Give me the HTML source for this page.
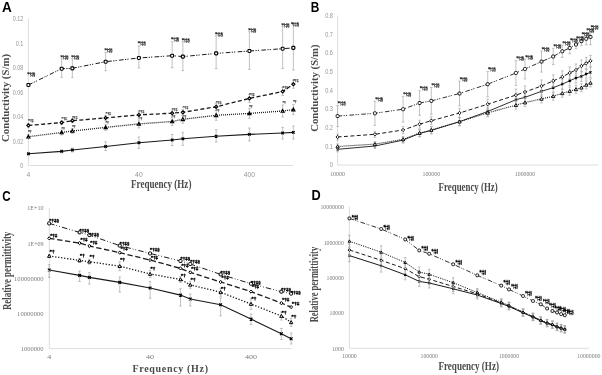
<!DOCTYPE html>
<html><head><meta charset="utf-8"><style>
html,body{margin:0;padding:0;background:#fff;width:602px;height:375px;overflow:hidden}
svg{display:block;filter:grayscale(1) blur(0.3px)}
</style></head><body>
<svg width="602" height="375" viewBox="0 0 602 375">
<rect width="602" height="375" fill="#fff"/>
<path d="M28.40,18.70V165.50H293.20" stroke="#d9d9d9" stroke-width="0.9" fill="none"/>
<text x="23.20" y="20.90" font-family="Liberation Sans" font-weight="normal" font-size="6.8" fill="#969696" text-anchor="end" textLength="10.5" lengthAdjust="spacingAndGlyphs">0.12</text>
<text x="23.20" y="45.60" font-family="Liberation Sans" font-weight="normal" font-size="6.8" fill="#969696" text-anchor="end" textLength="7.5" lengthAdjust="spacingAndGlyphs">0.1</text>
<text x="23.20" y="70.00" font-family="Liberation Sans" font-weight="normal" font-size="6.8" fill="#969696" text-anchor="end" textLength="10.5" lengthAdjust="spacingAndGlyphs">0.08</text>
<text x="23.20" y="94.50" font-family="Liberation Sans" font-weight="normal" font-size="6.8" fill="#969696" text-anchor="end" textLength="10.5" lengthAdjust="spacingAndGlyphs">0.06</text>
<text x="23.20" y="119.00" font-family="Liberation Sans" font-weight="normal" font-size="6.8" fill="#969696" text-anchor="end" textLength="10.5" lengthAdjust="spacingAndGlyphs">0.04</text>
<text x="23.20" y="143.50" font-family="Liberation Sans" font-weight="normal" font-size="6.8" fill="#969696" text-anchor="end" textLength="10.5" lengthAdjust="spacingAndGlyphs">0.02</text>
<text x="23.20" y="168.00" font-family="Liberation Sans" font-weight="normal" font-size="6.8" fill="#969696" text-anchor="end" textLength="3.3" lengthAdjust="spacingAndGlyphs">0</text>
<text x="28.40" y="177.00" font-family="Liberation Sans" font-weight="normal" font-size="6.8" fill="#969696" text-anchor="middle">4</text>
<text x="138.90" y="177.00" font-family="Liberation Sans" font-weight="normal" font-size="6.8" fill="#969696" text-anchor="middle">40</text>
<text x="249.40" y="177.00" font-family="Liberation Sans" font-weight="normal" font-size="6.8" fill="#969696" text-anchor="middle">400</text>
<path d="M28.40,152.80V154.80M27.10,152.80h2.6M27.10,154.80h2.6" stroke="#a8a8a8" stroke-width="0.7" fill="none"/>
<path d="M61.66,149.90V152.90M60.36,149.90h2.6M60.36,152.90h2.6" stroke="#a8a8a8" stroke-width="0.7" fill="none"/>
<path d="M72.37,148.00V152.00M71.07,148.00h2.6M71.07,152.00h2.6" stroke="#a8a8a8" stroke-width="0.7" fill="none"/>
<path d="M105.64,141.80V150.50M104.34,141.80h2.6M104.34,150.50h2.6" stroke="#a8a8a8" stroke-width="0.7" fill="none"/>
<path d="M138.90,137.00V148.40M137.60,137.00h2.6M137.60,148.40h2.6" stroke="#a8a8a8" stroke-width="0.7" fill="none"/>
<path d="M172.16,134.50V145.60M170.86,134.50h2.6M170.86,145.60h2.6" stroke="#a8a8a8" stroke-width="0.7" fill="none"/>
<path d="M182.87,132.30V145.30M181.57,132.30h2.6M181.57,145.30h2.6" stroke="#a8a8a8" stroke-width="0.7" fill="none"/>
<path d="M216.14,129.70V142.10M214.84,129.70h2.6M214.84,142.10h2.6" stroke="#a8a8a8" stroke-width="0.7" fill="none"/>
<path d="M249.40,128.00V141.00M248.10,128.00h2.6M248.10,141.00h2.6" stroke="#a8a8a8" stroke-width="0.7" fill="none"/>
<path d="M282.66,127.40V139.00M281.36,127.40h2.6M281.36,139.00h2.6" stroke="#a8a8a8" stroke-width="0.7" fill="none"/>
<path d="M293.37,126.00V139.00M292.07,126.00h2.6M292.07,139.00h2.6" stroke="#a8a8a8" stroke-width="0.7" fill="none"/>
<polyline points="28.40,153.80 61.66,151.40 72.37,150.00 105.64,146.50 138.90,142.70 172.16,140.00 182.87,138.80 216.14,136.20 249.40,134.40 282.66,133.00 293.37,132.40" fill="none" stroke="#1a1a1a" stroke-width="1.1"/>
<path d="M27.12,152.52L29.68,155.08M29.68,152.52L27.12,155.08" stroke="#000" stroke-width="1.2"/>
<path d="M60.38,150.12L62.94,152.68M62.94,150.12L60.38,152.68" stroke="#000" stroke-width="1.2"/>
<path d="M71.09,148.72L73.65,151.28M73.65,148.72L71.09,151.28" stroke="#000" stroke-width="1.2"/>
<path d="M104.36,145.22L106.92,147.78M106.92,145.22L104.36,147.78" stroke="#000" stroke-width="1.2"/>
<path d="M137.62,141.42L140.18,143.98M140.18,141.42L137.62,143.98" stroke="#000" stroke-width="1.2"/>
<path d="M170.88,138.72L173.44,141.28M173.44,138.72L170.88,141.28" stroke="#000" stroke-width="1.2"/>
<path d="M181.59,137.52L184.15,140.08M184.15,137.52L181.59,140.08" stroke="#000" stroke-width="1.2"/>
<path d="M214.86,134.92L217.42,137.48M217.42,134.92L214.86,137.48" stroke="#000" stroke-width="1.2"/>
<path d="M248.12,133.12L250.68,135.68M250.68,133.12L248.12,135.68" stroke="#000" stroke-width="1.2"/>
<path d="M281.38,131.72L283.94,134.28M283.94,131.72L281.38,134.28" stroke="#000" stroke-width="1.2"/>
<path d="M292.09,131.12L294.65,133.68M294.65,131.12L292.09,133.68" stroke="#000" stroke-width="1.2"/>
<path d="M28.40,134.70V138.70M27.10,134.70h2.6M27.10,138.70h2.6" stroke="#a8a8a8" stroke-width="0.7" fill="none"/>
<path d="M61.66,130.00V135.00M60.36,130.00h2.6M60.36,135.00h2.6" stroke="#a8a8a8" stroke-width="0.7" fill="none"/>
<path d="M72.37,128.50V133.50M71.07,128.50h2.6M71.07,133.50h2.6" stroke="#a8a8a8" stroke-width="0.7" fill="none"/>
<path d="M105.64,124.40V130.40M104.34,124.40h2.6M104.34,130.40h2.6" stroke="#a8a8a8" stroke-width="0.7" fill="none"/>
<path d="M138.90,119.90V127.90M137.60,119.90h2.6M137.60,127.90h2.6" stroke="#a8a8a8" stroke-width="0.7" fill="none"/>
<path d="M172.16,117.50V125.50M170.86,117.50h2.6M170.86,125.50h2.6" stroke="#a8a8a8" stroke-width="0.7" fill="none"/>
<path d="M182.87,115.30V123.30M181.57,115.30h2.6M181.57,123.30h2.6" stroke="#a8a8a8" stroke-width="0.7" fill="none"/>
<path d="M216.14,110.30V120.30M214.84,110.30h2.6M214.84,120.30h2.6" stroke="#a8a8a8" stroke-width="0.7" fill="none"/>
<path d="M249.40,108.40V118.40M248.10,108.40h2.6M248.10,118.40h2.6" stroke="#a8a8a8" stroke-width="0.7" fill="none"/>
<path d="M282.66,105.00V117.00M281.36,105.00h2.6M281.36,117.00h2.6" stroke="#a8a8a8" stroke-width="0.7" fill="none"/>
<path d="M293.37,104.60V114.60M292.07,104.60h2.6M292.07,114.60h2.6" stroke="#a8a8a8" stroke-width="0.7" fill="none"/>
<polyline points="28.40,136.70 61.66,132.50 72.37,131.00 105.64,127.40 138.90,123.90 172.16,121.50 182.87,119.30 216.14,115.30 249.40,113.40 282.66,111.00 293.37,109.60" fill="none" stroke="#1a1a1a" stroke-width="1.3" stroke-dasharray="1 1"/>
<path d="M28.40,135.16L29.94,137.96L26.86,137.96Z" fill="#fff" stroke="#000" stroke-width="1.15"/>
<path d="M61.66,130.96L63.20,133.76L60.12,133.76Z" fill="#fff" stroke="#000" stroke-width="1.15"/>
<path d="M72.37,129.46L73.91,132.26L70.83,132.26Z" fill="#fff" stroke="#000" stroke-width="1.15"/>
<path d="M105.64,125.86L107.18,128.66L104.10,128.66Z" fill="#fff" stroke="#000" stroke-width="1.15"/>
<path d="M138.90,122.36L140.44,125.16L137.36,125.16Z" fill="#fff" stroke="#000" stroke-width="1.15"/>
<path d="M172.16,119.96L173.70,122.76L170.62,122.76Z" fill="#fff" stroke="#000" stroke-width="1.15"/>
<path d="M182.87,117.76L184.41,120.56L181.33,120.56Z" fill="#fff" stroke="#000" stroke-width="1.15"/>
<path d="M216.14,113.76L217.68,116.56L214.60,116.56Z" fill="#fff" stroke="#000" stroke-width="1.15"/>
<path d="M249.40,111.86L250.94,114.66L247.86,114.66Z" fill="#fff" stroke="#000" stroke-width="1.15"/>
<path d="M282.66,109.46L284.20,112.26L281.12,112.26Z" fill="#fff" stroke="#000" stroke-width="1.15"/>
<path d="M293.37,108.06L294.91,110.86L291.83,110.86Z" fill="#fff" stroke="#000" stroke-width="1.15"/>
<text x="27.80" y="133.30" font-family="Liberation Serif" font-weight="bold" font-size="5.0" fill="#000" text-anchor="start" textLength="4.2" lengthAdjust="spacing">*†</text>
<text x="61.06" y="129.90" font-family="Liberation Serif" font-weight="bold" font-size="5.0" fill="#000" text-anchor="start" textLength="4.2" lengthAdjust="spacing">*†</text>
<text x="71.77" y="128.20" font-family="Liberation Serif" font-weight="bold" font-size="5.0" fill="#000" text-anchor="start" textLength="4.2" lengthAdjust="spacing">*†</text>
<text x="105.04" y="124.10" font-family="Liberation Serif" font-weight="bold" font-size="5.0" fill="#000" text-anchor="start" textLength="4.2" lengthAdjust="spacing">*†</text>
<text x="138.30" y="120.30" font-family="Liberation Serif" font-weight="bold" font-size="5.0" fill="#000" text-anchor="start" textLength="4.2" lengthAdjust="spacing">*†</text>
<text x="171.56" y="118.00" font-family="Liberation Serif" font-weight="bold" font-size="5.0" fill="#000" text-anchor="start" textLength="4.2" lengthAdjust="spacing">*†</text>
<text x="182.27" y="118.00" font-family="Liberation Serif" font-weight="bold" font-size="5.0" fill="#000" text-anchor="start" textLength="4.2" lengthAdjust="spacing">*†</text>
<text x="215.54" y="112.20" font-family="Liberation Serif" font-weight="bold" font-size="5.0" fill="#000" text-anchor="start" textLength="4.2" lengthAdjust="spacing">*†</text>
<text x="248.80" y="107.90" font-family="Liberation Serif" font-weight="bold" font-size="5.0" fill="#000" text-anchor="start" textLength="4.2" lengthAdjust="spacing">*†</text>
<text x="282.06" y="103.90" font-family="Liberation Serif" font-weight="bold" font-size="5.0" fill="#000" text-anchor="start" textLength="4.2" lengthAdjust="spacing">*†</text>
<text x="292.77" y="102.90" font-family="Liberation Serif" font-weight="bold" font-size="5.0" fill="#000" text-anchor="start" textLength="4.2" lengthAdjust="spacing">*†</text>
<path d="M28.40,123.40V127.40M27.10,123.40h2.6M27.10,127.40h2.6" stroke="#a8a8a8" stroke-width="0.7" fill="none"/>
<path d="M61.66,120.60V124.60M60.36,120.60h2.6M60.36,124.60h2.6" stroke="#a8a8a8" stroke-width="0.7" fill="none"/>
<path d="M72.37,118.70V122.70M71.07,118.70h2.6M71.07,122.70h2.6" stroke="#a8a8a8" stroke-width="0.7" fill="none"/>
<path d="M105.64,115.40V120.40M104.34,115.40h2.6M104.34,120.40h2.6" stroke="#a8a8a8" stroke-width="0.7" fill="none"/>
<path d="M138.90,111.90V117.90M137.60,111.90h2.6M137.60,117.90h2.6" stroke="#a8a8a8" stroke-width="0.7" fill="none"/>
<path d="M172.16,110.20V116.20M170.86,110.20h2.6M170.86,116.20h2.6" stroke="#a8a8a8" stroke-width="0.7" fill="none"/>
<path d="M182.87,109.30V115.30M181.57,109.30h2.6M181.57,115.30h2.6" stroke="#a8a8a8" stroke-width="0.7" fill="none"/>
<path d="M216.14,103.30V110.30M214.84,103.30h2.6M214.84,110.30h2.6" stroke="#a8a8a8" stroke-width="0.7" fill="none"/>
<path d="M249.40,94.40V102.40M248.10,94.40h2.6M248.10,102.40h2.6" stroke="#a8a8a8" stroke-width="0.7" fill="none"/>
<path d="M282.66,87.50V95.50M281.36,87.50h2.6M281.36,95.50h2.6" stroke="#a8a8a8" stroke-width="0.7" fill="none"/>
<path d="M293.37,80.20V88.20M292.07,80.20h2.6M292.07,88.20h2.6" stroke="#a8a8a8" stroke-width="0.7" fill="none"/>
<polyline points="28.40,125.40 61.66,122.60 72.37,120.70 105.64,117.90 138.90,114.90 172.16,113.20 182.87,112.30 216.14,106.80 249.40,98.40 282.66,91.50 293.37,84.20" fill="none" stroke="#1a1a1a" stroke-width="1.3" stroke-dasharray="4 2.4"/>
<path d="M28.40,123.86L29.94,125.40L28.40,126.94L26.86,125.40Z" fill="#fff" stroke="#000" stroke-width="1.15"/>
<path d="M61.66,121.06L63.20,122.60L61.66,124.14L60.12,122.60Z" fill="#fff" stroke="#000" stroke-width="1.15"/>
<path d="M72.37,119.16L73.91,120.70L72.37,122.24L70.83,120.70Z" fill="#fff" stroke="#000" stroke-width="1.15"/>
<path d="M105.64,116.36L107.18,117.90L105.64,119.44L104.10,117.90Z" fill="#fff" stroke="#000" stroke-width="1.15"/>
<path d="M138.90,113.36L140.44,114.90L138.90,116.44L137.36,114.90Z" fill="#fff" stroke="#000" stroke-width="1.15"/>
<path d="M172.16,111.66L173.70,113.20L172.16,114.74L170.62,113.20Z" fill="#fff" stroke="#000" stroke-width="1.15"/>
<path d="M182.87,110.76L184.41,112.30L182.87,113.84L181.33,112.30Z" fill="#fff" stroke="#000" stroke-width="1.15"/>
<path d="M216.14,105.26L217.68,106.80L216.14,108.34L214.60,106.80Z" fill="#fff" stroke="#000" stroke-width="1.15"/>
<path d="M249.40,96.86L250.94,98.40L249.40,99.94L247.86,98.40Z" fill="#fff" stroke="#000" stroke-width="1.15"/>
<path d="M282.66,89.96L284.20,91.50L282.66,93.04L281.12,91.50Z" fill="#fff" stroke="#000" stroke-width="1.15"/>
<path d="M293.37,82.66L294.91,84.20L293.37,85.74L291.83,84.20Z" fill="#fff" stroke="#000" stroke-width="1.15"/>
<text x="27.80" y="121.50" font-family="Liberation Serif" font-weight="bold" font-size="5.0" fill="#000" text-anchor="start" textLength="6.2" lengthAdjust="spacing">*†‡</text>
<text x="61.06" y="120.20" font-family="Liberation Serif" font-weight="bold" font-size="5.0" fill="#000" text-anchor="start" textLength="6.2" lengthAdjust="spacing">*†‡</text>
<text x="71.77" y="118.90" font-family="Liberation Serif" font-weight="bold" font-size="5.0" fill="#000" text-anchor="start" textLength="6.2" lengthAdjust="spacing">*†‡</text>
<text x="105.04" y="114.80" font-family="Liberation Serif" font-weight="bold" font-size="5.0" fill="#000" text-anchor="start" textLength="6.2" lengthAdjust="spacing">*†‡</text>
<text x="138.30" y="112.50" font-family="Liberation Serif" font-weight="bold" font-size="5.0" fill="#000" text-anchor="start" textLength="6.2" lengthAdjust="spacing">*†‡</text>
<text x="171.56" y="111.10" font-family="Liberation Serif" font-weight="bold" font-size="5.0" fill="#000" text-anchor="start" textLength="6.2" lengthAdjust="spacing">*†‡</text>
<text x="182.27" y="109.00" font-family="Liberation Serif" font-weight="bold" font-size="5.0" fill="#000" text-anchor="start" textLength="6.2" lengthAdjust="spacing">*†‡</text>
<text x="215.54" y="104.20" font-family="Liberation Serif" font-weight="bold" font-size="5.0" fill="#000" text-anchor="start" textLength="6.2" lengthAdjust="spacing">*†‡</text>
<text x="248.80" y="95.90" font-family="Liberation Serif" font-weight="bold" font-size="5.0" fill="#000" text-anchor="start" textLength="6.2" lengthAdjust="spacing">*†‡</text>
<text x="282.06" y="88.50" font-family="Liberation Serif" font-weight="bold" font-size="5.0" fill="#000" text-anchor="start" textLength="6.2" lengthAdjust="spacing">*†‡</text>
<text x="292.77" y="81.90" font-family="Liberation Serif" font-weight="bold" font-size="5.0" fill="#000" text-anchor="start" textLength="6.2" lengthAdjust="spacing">*†‡</text>
<path d="M61.66,58.70V77.40M60.36,58.70h2.6M60.36,77.40h2.6" stroke="#a8a8a8" stroke-width="0.7" fill="none"/>
<path d="M72.37,58.70V77.40M71.07,58.70h2.6M71.07,77.40h2.6" stroke="#a8a8a8" stroke-width="0.7" fill="none"/>
<path d="M105.64,52.40V70.70M104.34,52.40h2.6M104.34,70.70h2.6" stroke="#a8a8a8" stroke-width="0.7" fill="none"/>
<path d="M138.90,46.00V68.00M137.60,46.00h2.6M137.60,68.00h2.6" stroke="#a8a8a8" stroke-width="0.7" fill="none"/>
<path d="M172.16,41.70V67.70M170.86,41.70h2.6M170.86,67.70h2.6" stroke="#a8a8a8" stroke-width="0.7" fill="none"/>
<path d="M182.87,41.70V70.60M181.57,41.70h2.6M181.57,70.60h2.6" stroke="#a8a8a8" stroke-width="0.7" fill="none"/>
<path d="M216.14,35.70V68.60M214.84,35.70h2.6M214.84,68.60h2.6" stroke="#a8a8a8" stroke-width="0.7" fill="none"/>
<path d="M249.40,31.70V69.30M248.10,31.70h2.6M248.10,69.30h2.6" stroke="#a8a8a8" stroke-width="0.7" fill="none"/>
<path d="M282.66,26.30V68.60M281.36,26.30h2.6M281.36,68.60h2.6" stroke="#a8a8a8" stroke-width="0.7" fill="none"/>
<path d="M293.37,25.00V70.00M292.07,25.00h2.6M292.07,70.00h2.6" stroke="#a8a8a8" stroke-width="0.7" fill="none"/>
<polyline points="28.40,85.00 61.66,68.70 72.37,68.30 105.64,61.70 138.90,58.00 172.16,55.70 182.87,56.60 216.14,53.40 249.40,51.00 282.66,48.70 293.37,47.90" fill="none" stroke="#1a1a1a" stroke-width="1.0" stroke-dasharray="4.6 1.4 1.2 1.1 1.2 2.4"/>
<rect x="26.90" y="83.50" width="3.00" height="3.00" rx="0.9" fill="#fff" stroke="#000" stroke-width="1.15"/>
<rect x="60.16" y="67.20" width="3.00" height="3.00" rx="0.9" fill="#fff" stroke="#000" stroke-width="1.15"/>
<rect x="70.87" y="66.80" width="3.00" height="3.00" rx="0.9" fill="#fff" stroke="#000" stroke-width="1.15"/>
<rect x="104.14" y="60.20" width="3.00" height="3.00" rx="0.9" fill="#fff" stroke="#000" stroke-width="1.15"/>
<rect x="137.40" y="56.50" width="3.00" height="3.00" rx="0.9" fill="#fff" stroke="#000" stroke-width="1.15"/>
<rect x="170.66" y="54.20" width="3.00" height="3.00" rx="0.9" fill="#fff" stroke="#000" stroke-width="1.15"/>
<rect x="181.37" y="55.10" width="3.00" height="3.00" rx="0.9" fill="#fff" stroke="#000" stroke-width="1.15"/>
<rect x="214.64" y="51.90" width="3.00" height="3.00" rx="0.9" fill="#fff" stroke="#000" stroke-width="1.15"/>
<rect x="247.90" y="49.50" width="3.00" height="3.00" rx="0.9" fill="#fff" stroke="#000" stroke-width="1.15"/>
<rect x="281.16" y="47.20" width="3.00" height="3.00" rx="0.9" fill="#fff" stroke="#000" stroke-width="1.15"/>
<rect x="291.87" y="46.40" width="3.00" height="3.00" rx="0.9" fill="#fff" stroke="#000" stroke-width="1.15"/>
<text x="27.00" y="75.60" font-family="Liberation Serif" font-weight="bold" font-size="5.6" fill="#000" text-anchor="start" textLength="8.6" lengthAdjust="spacing">*†‡§</text>
<text x="60.26" y="59.40" font-family="Liberation Serif" font-weight="bold" font-size="5.6" fill="#000" text-anchor="start" textLength="8.6" lengthAdjust="spacing">*†‡§</text>
<text x="70.97" y="59.40" font-family="Liberation Serif" font-weight="bold" font-size="5.6" fill="#000" text-anchor="start" textLength="8.6" lengthAdjust="spacing">*†‡§</text>
<text x="104.24" y="52.30" font-family="Liberation Serif" font-weight="bold" font-size="5.6" fill="#000" text-anchor="start" textLength="8.6" lengthAdjust="spacing">*†‡§</text>
<text x="137.50" y="45.10" font-family="Liberation Serif" font-weight="bold" font-size="5.6" fill="#000" text-anchor="start" textLength="8.6" lengthAdjust="spacing">*†‡§</text>
<text x="170.76" y="41.30" font-family="Liberation Serif" font-weight="bold" font-size="5.6" fill="#000" text-anchor="start" textLength="8.6" lengthAdjust="spacing">*†‡§</text>
<text x="181.47" y="41.90" font-family="Liberation Serif" font-weight="bold" font-size="5.6" fill="#000" text-anchor="start" textLength="8.6" lengthAdjust="spacing">*†‡§</text>
<text x="214.74" y="35.60" font-family="Liberation Serif" font-weight="bold" font-size="5.6" fill="#000" text-anchor="start" textLength="8.6" lengthAdjust="spacing">*†‡§</text>
<text x="248.00" y="31.60" font-family="Liberation Serif" font-weight="bold" font-size="5.6" fill="#000" text-anchor="start" textLength="8.6" lengthAdjust="spacing">*†‡§</text>
<text x="281.26" y="26.60" font-family="Liberation Serif" font-weight="bold" font-size="5.6" fill="#000" text-anchor="start" textLength="8.6" lengthAdjust="spacing">*†‡§</text>
<text x="290.67" y="25.90" font-family="Liberation Serif" font-weight="bold" font-size="5.6" fill="#000" text-anchor="start" textLength="8.6" lengthAdjust="spacing">*†‡§</text>
<text x="2.00" y="12.40" font-family="Liberation Sans" font-weight="bold" font-size="14" fill="#000" text-anchor="start" textLength="9.8" lengthAdjust="spacingAndGlyphs">A</text>
<text transform="translate(9.40,98.00) rotate(-90)" x="0" y="0" font-family="Liberation Serif" font-weight="bold" font-size="11" fill="#4a4a4a" text-anchor="middle" textLength="88" lengthAdjust="spacingAndGlyphs">Conductivity (S/m)</text>
<text x="131.00" y="188.00" font-family="Liberation Serif" font-weight="bold" font-size="11.5" fill="#4a4a4a" text-anchor="start" textLength="60.4" lengthAdjust="spacingAndGlyphs">Frequency (Hz)</text>
<path d="M337.60,15.50V165.00H598.30" stroke="#d9d9d9" stroke-width="0.9" fill="none"/>
<text x="333.00" y="17.90" font-family="Liberation Sans" font-weight="normal" font-size="6.8" fill="#969696" text-anchor="end" textLength="7.8" lengthAdjust="spacingAndGlyphs">0.8</text>
<text x="333.00" y="36.59" font-family="Liberation Sans" font-weight="normal" font-size="6.8" fill="#969696" text-anchor="end" textLength="7.8" lengthAdjust="spacingAndGlyphs">0.7</text>
<text x="333.00" y="55.27" font-family="Liberation Sans" font-weight="normal" font-size="6.8" fill="#969696" text-anchor="end" textLength="7.8" lengthAdjust="spacingAndGlyphs">0.6</text>
<text x="333.00" y="73.96" font-family="Liberation Sans" font-weight="normal" font-size="6.8" fill="#969696" text-anchor="end" textLength="7.8" lengthAdjust="spacingAndGlyphs">0.5</text>
<text x="333.00" y="92.65" font-family="Liberation Sans" font-weight="normal" font-size="6.8" fill="#969696" text-anchor="end" textLength="7.8" lengthAdjust="spacingAndGlyphs">0.4</text>
<text x="333.00" y="111.34" font-family="Liberation Sans" font-weight="normal" font-size="6.8" fill="#969696" text-anchor="end" textLength="7.8" lengthAdjust="spacingAndGlyphs">0.3</text>
<text x="333.00" y="130.03" font-family="Liberation Sans" font-weight="normal" font-size="6.8" fill="#969696" text-anchor="end" textLength="7.8" lengthAdjust="spacingAndGlyphs">0.2</text>
<text x="333.00" y="148.71" font-family="Liberation Sans" font-weight="normal" font-size="6.8" fill="#969696" text-anchor="end" textLength="7.8" lengthAdjust="spacingAndGlyphs">0.1</text>
<text x="333.00" y="167.40" font-family="Liberation Sans" font-weight="normal" font-size="6.8" fill="#969696" text-anchor="end" textLength="3.2" lengthAdjust="spacingAndGlyphs">0</text>
<text x="337.60" y="176.40" font-family="Liberation Serif" font-weight="normal" font-size="6.6" fill="#7c7c7c" text-anchor="middle" textLength="14.9" lengthAdjust="spacingAndGlyphs">10000</text>
<text x="431.30" y="176.40" font-family="Liberation Serif" font-weight="normal" font-size="6.6" fill="#7c7c7c" text-anchor="middle" textLength="17.6" lengthAdjust="spacingAndGlyphs">100000</text>
<text x="525.00" y="176.40" font-family="Liberation Serif" font-weight="normal" font-size="6.6" fill="#7c7c7c" text-anchor="middle" textLength="20.3" lengthAdjust="spacingAndGlyphs">1000000</text>
<path d="M337.60,146.80V151.80M336.30,146.80h2.6M336.30,151.80h2.6" stroke="#a8a8a8" stroke-width="0.7" fill="none"/>
<path d="M374.89,143.50V148.50M373.59,143.50h2.6M373.59,148.50h2.6" stroke="#a8a8a8" stroke-width="0.7" fill="none"/>
<path d="M403.09,137.10V143.10M401.79,137.10h2.6M401.79,143.10h2.6" stroke="#a8a8a8" stroke-width="0.7" fill="none"/>
<path d="M419.59,130.00V137.00M418.29,130.00h2.6M418.29,137.00h2.6" stroke="#a8a8a8" stroke-width="0.7" fill="none"/>
<path d="M431.30,126.90V133.90M430.00,126.90h2.6M430.00,133.90h2.6" stroke="#a8a8a8" stroke-width="0.7" fill="none"/>
<path d="M459.51,117.70V125.70M458.21,117.70h2.6M458.21,125.70h2.6" stroke="#a8a8a8" stroke-width="0.7" fill="none"/>
<path d="M487.71,107.00V116.00M486.41,107.00h2.6M486.41,116.00h2.6" stroke="#a8a8a8" stroke-width="0.7" fill="none"/>
<path d="M515.92,94.70V104.70M514.62,94.70h2.6M514.62,104.70h2.6" stroke="#a8a8a8" stroke-width="0.7" fill="none"/>
<path d="M525.00,92.30V102.30M523.70,92.30h2.6M523.70,102.30h2.6" stroke="#a8a8a8" stroke-width="0.7" fill="none"/>
<path d="M541.50,86.30V96.30M540.20,86.30h2.6M540.20,96.30h2.6" stroke="#a8a8a8" stroke-width="0.7" fill="none"/>
<path d="M553.21,82.70V92.70M551.91,82.70h2.6M551.91,92.70h2.6" stroke="#a8a8a8" stroke-width="0.7" fill="none"/>
<path d="M562.29,79.10V89.10M560.99,79.10h2.6M560.99,89.10h2.6" stroke="#a8a8a8" stroke-width="0.7" fill="none"/>
<path d="M569.71,75.80V85.80M568.41,75.80h2.6M568.41,85.80h2.6" stroke="#a8a8a8" stroke-width="0.7" fill="none"/>
<path d="M575.98,73.00V83.00M574.68,73.00h2.6M574.68,83.00h2.6" stroke="#a8a8a8" stroke-width="0.7" fill="none"/>
<path d="M581.41,71.40V81.40M580.11,71.40h2.6M580.11,81.40h2.6" stroke="#a8a8a8" stroke-width="0.7" fill="none"/>
<path d="M586.21,69.00V79.00M584.91,69.00h2.6M584.91,79.00h2.6" stroke="#a8a8a8" stroke-width="0.7" fill="none"/>
<path d="M590.49,67.40V77.40M589.19,67.40h2.6M589.19,77.40h2.6" stroke="#a8a8a8" stroke-width="0.7" fill="none"/>
<polyline points="337.60,149.30 374.89,146.00 403.09,140.10 419.59,133.50 431.30,130.40 459.51,121.70 487.71,111.50 515.92,99.70 525.00,97.30 541.50,91.30 553.21,87.70 562.29,84.10 569.71,80.80 575.98,78.00 581.41,76.40 586.21,74.00 590.49,72.40" fill="none" stroke="#1a1a1a" stroke-width="0.9"/>
<path d="M336.56,148.26L338.64,150.34M338.64,148.26L336.56,150.34" stroke="#000" stroke-width="1.2"/>
<path d="M373.85,144.96L375.93,147.04M375.93,144.96L373.85,147.04" stroke="#000" stroke-width="1.2"/>
<path d="M402.05,139.06L404.13,141.14M404.13,139.06L402.05,141.14" stroke="#000" stroke-width="1.2"/>
<path d="M418.55,132.46L420.63,134.54M420.63,132.46L418.55,134.54" stroke="#000" stroke-width="1.2"/>
<path d="M430.26,129.36L432.34,131.44M432.34,129.36L430.26,131.44" stroke="#000" stroke-width="1.2"/>
<path d="M458.47,120.66L460.55,122.74M460.55,120.66L458.47,122.74" stroke="#000" stroke-width="1.2"/>
<path d="M486.67,110.46L488.75,112.54M488.75,110.46L486.67,112.54" stroke="#000" stroke-width="1.2"/>
<path d="M514.88,98.66L516.96,100.74M516.96,98.66L514.88,100.74" stroke="#000" stroke-width="1.2"/>
<path d="M523.96,96.26L526.04,98.34M526.04,96.26L523.96,98.34" stroke="#000" stroke-width="1.2"/>
<path d="M540.46,90.26L542.54,92.34M542.54,90.26L540.46,92.34" stroke="#000" stroke-width="1.2"/>
<path d="M552.17,86.66L554.25,88.74M554.25,86.66L552.17,88.74" stroke="#000" stroke-width="1.2"/>
<path d="M561.25,83.06L563.33,85.14M563.33,83.06L561.25,85.14" stroke="#000" stroke-width="1.2"/>
<path d="M568.67,79.76L570.75,81.84M570.75,79.76L568.67,81.84" stroke="#000" stroke-width="1.2"/>
<path d="M574.94,76.96L577.02,79.04M577.02,76.96L574.94,79.04" stroke="#000" stroke-width="1.2"/>
<path d="M580.37,75.36L582.45,77.44M582.45,75.36L580.37,77.44" stroke="#000" stroke-width="1.2"/>
<path d="M585.17,72.96L587.25,75.04M587.25,72.96L585.17,75.04" stroke="#000" stroke-width="1.2"/>
<path d="M589.45,71.36L591.53,73.44M591.53,71.36L589.45,73.44" stroke="#000" stroke-width="1.2"/>
<path d="M337.60,144.00V149.00M336.30,144.00h2.6M336.30,149.00h2.6" stroke="#a8a8a8" stroke-width="0.7" fill="none"/>
<path d="M374.89,141.60V146.60M373.59,141.60h2.6M373.59,146.60h2.6" stroke="#a8a8a8" stroke-width="0.7" fill="none"/>
<path d="M403.09,136.40V142.40M401.79,136.40h2.6M401.79,142.40h2.6" stroke="#a8a8a8" stroke-width="0.7" fill="none"/>
<path d="M419.59,129.50V136.50M418.29,129.50h2.6M418.29,136.50h2.6" stroke="#a8a8a8" stroke-width="0.7" fill="none"/>
<path d="M431.30,126.50V133.50M430.00,126.50h2.6M430.00,133.50h2.6" stroke="#a8a8a8" stroke-width="0.7" fill="none"/>
<path d="M459.51,117.70V125.70M458.21,117.70h2.6M458.21,125.70h2.6" stroke="#a8a8a8" stroke-width="0.7" fill="none"/>
<path d="M487.71,108.80V116.80M486.41,108.80h2.6M486.41,116.80h2.6" stroke="#a8a8a8" stroke-width="0.7" fill="none"/>
<path d="M515.92,101.20V109.20M514.62,101.20h2.6M514.62,109.20h2.6" stroke="#a8a8a8" stroke-width="0.7" fill="none"/>
<path d="M525.00,98.60V106.60M523.70,98.60h2.6M523.70,106.60h2.6" stroke="#a8a8a8" stroke-width="0.7" fill="none"/>
<path d="M541.50,94.90V102.90M540.20,94.90h2.6M540.20,102.90h2.6" stroke="#a8a8a8" stroke-width="0.7" fill="none"/>
<path d="M553.21,92.20V100.20M551.91,92.20h2.6M551.91,100.20h2.6" stroke="#a8a8a8" stroke-width="0.7" fill="none"/>
<path d="M562.29,89.30V97.30M560.99,89.30h2.6M560.99,97.30h2.6" stroke="#a8a8a8" stroke-width="0.7" fill="none"/>
<path d="M569.71,87.20V95.20M568.41,87.20h2.6M568.41,95.20h2.6" stroke="#a8a8a8" stroke-width="0.7" fill="none"/>
<path d="M575.98,85.30V93.30M574.68,85.30h2.6M574.68,93.30h2.6" stroke="#a8a8a8" stroke-width="0.7" fill="none"/>
<path d="M581.41,83.70V91.70M580.11,83.70h2.6M580.11,91.70h2.6" stroke="#a8a8a8" stroke-width="0.7" fill="none"/>
<path d="M586.21,80.90V88.90M584.91,80.90h2.6M584.91,88.90h2.6" stroke="#a8a8a8" stroke-width="0.7" fill="none"/>
<path d="M590.49,78.90V86.90M589.19,78.90h2.6M589.19,86.90h2.6" stroke="#a8a8a8" stroke-width="0.7" fill="none"/>
<polyline points="337.60,146.50 374.89,144.10 403.09,139.40 419.59,133.00 431.30,130.00 459.51,121.70 487.71,112.80 515.92,105.20 525.00,102.60 541.50,98.90 553.21,96.20 562.29,93.30 569.71,91.20 575.98,89.30 581.41,87.70 586.21,84.90 590.49,82.90" fill="none" stroke="#1a1a1a" stroke-width="1.1" stroke-dasharray="1 1"/>
<path d="M337.60,144.85L339.25,147.85L335.95,147.85Z" fill="#fff" stroke="#000" stroke-width="0.9"/>
<path d="M374.89,142.45L376.54,145.45L373.24,145.45Z" fill="#fff" stroke="#000" stroke-width="0.9"/>
<path d="M403.09,137.75L404.74,140.75L401.44,140.75Z" fill="#fff" stroke="#000" stroke-width="0.9"/>
<path d="M419.59,131.35L421.24,134.35L417.94,134.35Z" fill="#fff" stroke="#000" stroke-width="0.9"/>
<path d="M431.30,128.35L432.95,131.35L429.65,131.35Z" fill="#fff" stroke="#000" stroke-width="0.9"/>
<path d="M459.51,120.05L461.16,123.05L457.86,123.05Z" fill="#fff" stroke="#000" stroke-width="0.9"/>
<path d="M487.71,111.15L489.36,114.15L486.06,114.15Z" fill="#fff" stroke="#000" stroke-width="0.9"/>
<path d="M515.92,103.55L517.57,106.55L514.27,106.55Z" fill="#fff" stroke="#000" stroke-width="0.9"/>
<path d="M525.00,100.95L526.65,103.95L523.35,103.95Z" fill="#fff" stroke="#000" stroke-width="0.9"/>
<path d="M541.50,97.25L543.15,100.25L539.85,100.25Z" fill="#fff" stroke="#000" stroke-width="0.9"/>
<path d="M553.21,94.55L554.86,97.55L551.56,97.55Z" fill="#fff" stroke="#000" stroke-width="0.9"/>
<path d="M562.29,91.65L563.94,94.65L560.64,94.65Z" fill="#fff" stroke="#000" stroke-width="0.9"/>
<path d="M569.71,89.55L571.36,92.55L568.06,92.55Z" fill="#fff" stroke="#000" stroke-width="0.9"/>
<path d="M575.98,87.65L577.63,90.65L574.33,90.65Z" fill="#fff" stroke="#000" stroke-width="0.9"/>
<path d="M581.41,86.05L583.06,89.05L579.76,89.05Z" fill="#fff" stroke="#000" stroke-width="0.9"/>
<path d="M586.21,83.25L587.86,86.25L584.56,86.25Z" fill="#fff" stroke="#000" stroke-width="0.9"/>
<path d="M590.49,81.25L592.14,84.25L588.84,84.25Z" fill="#fff" stroke="#000" stroke-width="0.9"/>
<path d="M337.60,134.00V140.00M336.30,134.00h2.6M336.30,140.00h2.6" stroke="#a8a8a8" stroke-width="0.7" fill="none"/>
<path d="M374.89,131.30V137.30M373.59,131.30h2.6M373.59,137.30h2.6" stroke="#a8a8a8" stroke-width="0.7" fill="none"/>
<path d="M403.09,126.50V133.50M401.79,126.50h2.6M401.79,133.50h2.6" stroke="#a8a8a8" stroke-width="0.7" fill="none"/>
<path d="M419.59,120.20V128.20M418.29,120.20h2.6M418.29,128.20h2.6" stroke="#a8a8a8" stroke-width="0.7" fill="none"/>
<path d="M431.30,116.70V124.70M430.00,116.70h2.6M430.00,124.70h2.6" stroke="#a8a8a8" stroke-width="0.7" fill="none"/>
<path d="M459.51,108.50V117.50M458.21,108.50h2.6M458.21,117.50h2.6" stroke="#a8a8a8" stroke-width="0.7" fill="none"/>
<path d="M487.71,99.20V109.20M486.41,99.20h2.6M486.41,109.20h2.6" stroke="#a8a8a8" stroke-width="0.7" fill="none"/>
<path d="M515.92,89.10V101.10M514.62,89.10h2.6M514.62,101.10h2.6" stroke="#a8a8a8" stroke-width="0.7" fill="none"/>
<path d="M525.00,86.00V98.00M523.70,86.00h2.6M523.70,98.00h2.6" stroke="#a8a8a8" stroke-width="0.7" fill="none"/>
<path d="M541.50,80.00V92.00M540.20,80.00h2.6M540.20,92.00h2.6" stroke="#a8a8a8" stroke-width="0.7" fill="none"/>
<path d="M553.21,74.90V86.90M551.91,74.90h2.6M551.91,86.90h2.6" stroke="#a8a8a8" stroke-width="0.7" fill="none"/>
<path d="M562.29,70.90V82.90M560.99,70.90h2.6M560.99,82.90h2.6" stroke="#a8a8a8" stroke-width="0.7" fill="none"/>
<path d="M569.71,66.90V78.90M568.41,66.90h2.6M568.41,78.90h2.6" stroke="#a8a8a8" stroke-width="0.7" fill="none"/>
<path d="M575.98,64.00V76.00M574.68,64.00h2.6M574.68,76.00h2.6" stroke="#a8a8a8" stroke-width="0.7" fill="none"/>
<path d="M581.41,60.00V72.00M580.11,60.00h2.6M580.11,72.00h2.6" stroke="#a8a8a8" stroke-width="0.7" fill="none"/>
<path d="M586.21,57.30V69.30M584.91,57.30h2.6M584.91,69.30h2.6" stroke="#a8a8a8" stroke-width="0.7" fill="none"/>
<path d="M590.49,55.40V66.40M589.19,55.40h2.6M589.19,66.40h2.6" stroke="#a8a8a8" stroke-width="0.7" fill="none"/>
<polyline points="337.60,137.00 374.89,134.30 403.09,130.00 419.59,124.20 431.30,120.70 459.51,113.00 487.71,104.20 515.92,95.10 525.00,92.00 541.50,86.00 553.21,80.90 562.29,76.90 569.71,72.90 575.98,70.00 581.41,66.00 586.21,63.30 590.49,60.90" fill="none" stroke="#1a1a1a" stroke-width="1.0" stroke-dasharray="4 2.4"/>
<path d="M337.60,135.35L339.25,137.00L337.60,138.65L335.95,137.00Z" fill="#fff" stroke="#000" stroke-width="0.9"/>
<path d="M374.89,132.65L376.54,134.30L374.89,135.95L373.24,134.30Z" fill="#fff" stroke="#000" stroke-width="0.9"/>
<path d="M403.09,128.35L404.74,130.00L403.09,131.65L401.44,130.00Z" fill="#fff" stroke="#000" stroke-width="0.9"/>
<path d="M419.59,122.55L421.24,124.20L419.59,125.85L417.94,124.20Z" fill="#fff" stroke="#000" stroke-width="0.9"/>
<path d="M431.30,119.05L432.95,120.70L431.30,122.35L429.65,120.70Z" fill="#fff" stroke="#000" stroke-width="0.9"/>
<path d="M459.51,111.35L461.16,113.00L459.51,114.65L457.86,113.00Z" fill="#fff" stroke="#000" stroke-width="0.9"/>
<path d="M487.71,102.55L489.36,104.20L487.71,105.85L486.06,104.20Z" fill="#fff" stroke="#000" stroke-width="0.9"/>
<path d="M515.92,93.45L517.57,95.10L515.92,96.75L514.27,95.10Z" fill="#fff" stroke="#000" stroke-width="0.9"/>
<path d="M525.00,90.35L526.65,92.00L525.00,93.65L523.35,92.00Z" fill="#fff" stroke="#000" stroke-width="0.9"/>
<path d="M541.50,84.35L543.15,86.00L541.50,87.65L539.85,86.00Z" fill="#fff" stroke="#000" stroke-width="0.9"/>
<path d="M553.21,79.25L554.86,80.90L553.21,82.55L551.56,80.90Z" fill="#fff" stroke="#000" stroke-width="0.9"/>
<path d="M562.29,75.25L563.94,76.90L562.29,78.55L560.64,76.90Z" fill="#fff" stroke="#000" stroke-width="0.9"/>
<path d="M569.71,71.25L571.36,72.90L569.71,74.55L568.06,72.90Z" fill="#fff" stroke="#000" stroke-width="0.9"/>
<path d="M575.98,68.35L577.63,70.00L575.98,71.65L574.33,70.00Z" fill="#fff" stroke="#000" stroke-width="0.9"/>
<path d="M581.41,64.35L583.06,66.00L581.41,67.65L579.76,66.00Z" fill="#fff" stroke="#000" stroke-width="0.9"/>
<path d="M586.21,61.65L587.86,63.30L586.21,64.95L584.56,63.30Z" fill="#fff" stroke="#000" stroke-width="0.9"/>
<path d="M590.49,59.25L592.14,60.90L590.49,62.55L588.84,60.90Z" fill="#fff" stroke="#000" stroke-width="0.9"/>
<path d="M337.60,105.70V126.50M336.30,105.70h2.6M336.30,126.50h2.6" stroke="#a8a8a8" stroke-width="0.7" fill="none"/>
<path d="M374.89,101.30V125.30M373.59,101.30h2.6M373.59,125.30h2.6" stroke="#a8a8a8" stroke-width="0.7" fill="none"/>
<path d="M403.09,96.30V122.10M401.79,96.30h2.6M401.79,122.10h2.6" stroke="#a8a8a8" stroke-width="0.7" fill="none"/>
<path d="M419.59,90.70V115.30M418.29,90.70h2.6M418.29,115.30h2.6" stroke="#a8a8a8" stroke-width="0.7" fill="none"/>
<path d="M431.30,87.50V114.30M430.00,87.50h2.6M430.00,114.30h2.6" stroke="#a8a8a8" stroke-width="0.7" fill="none"/>
<path d="M459.51,81.10V105.90M458.21,81.10h2.6M458.21,105.90h2.6" stroke="#a8a8a8" stroke-width="0.7" fill="none"/>
<path d="M487.71,71.60V96.80M486.41,71.60h2.6M486.41,96.80h2.6" stroke="#a8a8a8" stroke-width="0.7" fill="none"/>
<path d="M515.92,60.60V85.40M514.62,60.60h2.6M514.62,85.40h2.6" stroke="#a8a8a8" stroke-width="0.7" fill="none"/>
<path d="M525.00,59.10V78.90M523.70,59.10h2.6M523.70,78.90h2.6" stroke="#a8a8a8" stroke-width="0.7" fill="none"/>
<path d="M541.50,51.10V72.10M540.20,51.10h2.6M540.20,72.10h2.6" stroke="#a8a8a8" stroke-width="0.7" fill="none"/>
<path d="M553.21,48.30V64.70M551.91,48.30h2.6M551.91,64.70h2.6" stroke="#a8a8a8" stroke-width="0.7" fill="none"/>
<path d="M562.29,45.20V57.40M560.99,45.20h2.6M560.99,57.40h2.6" stroke="#a8a8a8" stroke-width="0.7" fill="none"/>
<path d="M569.71,42.30V53.70M568.41,42.30h2.6M568.41,53.70h2.6" stroke="#a8a8a8" stroke-width="0.7" fill="none"/>
<path d="M575.98,40.30V48.70M574.68,40.30h2.6M574.68,48.70h2.6" stroke="#a8a8a8" stroke-width="0.7" fill="none"/>
<path d="M581.41,36.70V45.70M580.11,36.70h2.6M580.11,45.70h2.6" stroke="#a8a8a8" stroke-width="0.7" fill="none"/>
<path d="M586.21,32.80V44.80M584.91,32.80h2.6M584.91,44.80h2.6" stroke="#a8a8a8" stroke-width="0.7" fill="none"/>
<path d="M590.49,29.10V44.70M589.19,29.10h2.6M589.19,44.70h2.6" stroke="#a8a8a8" stroke-width="0.7" fill="none"/>
<polyline points="337.60,116.10 374.89,113.30 403.09,109.20 419.59,103.00 431.30,100.90 459.51,93.50 487.71,84.20 515.92,73.00 525.00,69.00 541.50,61.60 553.21,56.50 562.29,51.30 569.71,48.00 575.98,44.50 581.41,41.20 586.21,38.80 590.49,36.90" fill="none" stroke="#1a1a1a" stroke-width="0.9" stroke-dasharray="4.6 1.4 1.2 1.1 1.2 2.4"/>
<rect x="336.10" y="114.60" width="3.00" height="3.00" rx="0.9" fill="#fff" stroke="#000" stroke-width="0.9"/>
<rect x="373.39" y="111.80" width="3.00" height="3.00" rx="0.9" fill="#fff" stroke="#000" stroke-width="0.9"/>
<rect x="401.59" y="107.70" width="3.00" height="3.00" rx="0.9" fill="#fff" stroke="#000" stroke-width="0.9"/>
<rect x="418.09" y="101.50" width="3.00" height="3.00" rx="0.9" fill="#fff" stroke="#000" stroke-width="0.9"/>
<rect x="429.80" y="99.40" width="3.00" height="3.00" rx="0.9" fill="#fff" stroke="#000" stroke-width="0.9"/>
<rect x="458.01" y="92.00" width="3.00" height="3.00" rx="0.9" fill="#fff" stroke="#000" stroke-width="0.9"/>
<rect x="486.21" y="82.70" width="3.00" height="3.00" rx="0.9" fill="#fff" stroke="#000" stroke-width="0.9"/>
<rect x="514.42" y="71.50" width="3.00" height="3.00" rx="0.9" fill="#fff" stroke="#000" stroke-width="0.9"/>
<rect x="523.50" y="67.50" width="3.00" height="3.00" rx="0.9" fill="#fff" stroke="#000" stroke-width="0.9"/>
<rect x="540.00" y="60.10" width="3.00" height="3.00" rx="0.9" fill="#fff" stroke="#000" stroke-width="0.9"/>
<rect x="551.71" y="55.00" width="3.00" height="3.00" rx="0.9" fill="#fff" stroke="#000" stroke-width="0.9"/>
<rect x="560.79" y="49.80" width="3.00" height="3.00" rx="0.9" fill="#fff" stroke="#000" stroke-width="0.9"/>
<rect x="568.21" y="46.50" width="3.00" height="3.00" rx="0.9" fill="#fff" stroke="#000" stroke-width="0.9"/>
<rect x="574.48" y="43.00" width="3.00" height="3.00" rx="0.9" fill="#fff" stroke="#000" stroke-width="0.9"/>
<rect x="579.91" y="39.70" width="3.00" height="3.00" rx="0.9" fill="#fff" stroke="#000" stroke-width="0.9"/>
<rect x="584.71" y="37.30" width="3.00" height="3.00" rx="0.9" fill="#fff" stroke="#000" stroke-width="0.9"/>
<rect x="588.99" y="35.40" width="3.00" height="3.00" rx="0.9" fill="#fff" stroke="#000" stroke-width="0.9"/>
<text x="337.60" y="105.30" font-family="Liberation Serif" font-weight="bold" font-size="5.6" fill="#000" text-anchor="start" textLength="8.4" lengthAdjust="spacing">*†‡§</text>
<text x="374.89" y="100.90" font-family="Liberation Serif" font-weight="bold" font-size="5.6" fill="#000" text-anchor="start" textLength="8.4" lengthAdjust="spacing">*†‡§</text>
<text x="403.09" y="95.90" font-family="Liberation Serif" font-weight="bold" font-size="5.6" fill="#000" text-anchor="start" textLength="8.4" lengthAdjust="spacing">*†‡§</text>
<text x="419.59" y="90.30" font-family="Liberation Serif" font-weight="bold" font-size="5.6" fill="#000" text-anchor="start" textLength="8.4" lengthAdjust="spacing">*†‡§</text>
<text x="431.30" y="87.10" font-family="Liberation Serif" font-weight="bold" font-size="5.6" fill="#000" text-anchor="start" textLength="8.4" lengthAdjust="spacing">*†‡§</text>
<text x="459.51" y="80.70" font-family="Liberation Serif" font-weight="bold" font-size="5.6" fill="#000" text-anchor="start" textLength="8.4" lengthAdjust="spacing">*†‡§</text>
<text x="487.71" y="71.20" font-family="Liberation Serif" font-weight="bold" font-size="5.6" fill="#000" text-anchor="start" textLength="8.4" lengthAdjust="spacing">*†‡§</text>
<text x="515.92" y="60.20" font-family="Liberation Serif" font-weight="bold" font-size="5.6" fill="#000" text-anchor="start" textLength="8.4" lengthAdjust="spacing">*†‡§</text>
<text x="525.00" y="58.70" font-family="Liberation Serif" font-weight="bold" font-size="5.6" fill="#000" text-anchor="start" textLength="8.4" lengthAdjust="spacing">*†‡§</text>
<text x="541.50" y="50.70" font-family="Liberation Serif" font-weight="bold" font-size="5.6" fill="#000" text-anchor="start" textLength="8.4" lengthAdjust="spacing">*†‡§</text>
<text x="553.21" y="47.90" font-family="Liberation Serif" font-weight="bold" font-size="5.6" fill="#000" text-anchor="start" textLength="8.4" lengthAdjust="spacing">*†‡§</text>
<text x="562.29" y="44.80" font-family="Liberation Serif" font-weight="bold" font-size="5.6" fill="#000" text-anchor="start" textLength="8.4" lengthAdjust="spacing">*†‡§</text>
<text x="569.71" y="41.90" font-family="Liberation Serif" font-weight="bold" font-size="5.6" fill="#000" text-anchor="start" textLength="8.4" lengthAdjust="spacing">*†‡§</text>
<text x="575.98" y="39.90" font-family="Liberation Serif" font-weight="bold" font-size="5.6" fill="#000" text-anchor="start" textLength="8.4" lengthAdjust="spacing">*†‡§</text>
<text x="581.41" y="36.30" font-family="Liberation Serif" font-weight="bold" font-size="5.6" fill="#000" text-anchor="start" textLength="8.4" lengthAdjust="spacing">*†‡§</text>
<text x="586.21" y="32.40" font-family="Liberation Serif" font-weight="bold" font-size="5.6" fill="#000" text-anchor="start" textLength="8.4" lengthAdjust="spacing">*†‡§</text>
<text x="590.49" y="28.70" font-family="Liberation Serif" font-weight="bold" font-size="5.6" fill="#000" text-anchor="start" textLength="8.4" lengthAdjust="spacing">*†‡§</text>
<text x="310.80" y="12.20" font-family="Liberation Sans" font-weight="bold" font-size="14" fill="#000" text-anchor="start" textLength="8.6" lengthAdjust="spacingAndGlyphs">B</text>
<text transform="translate(318.40,88.10) rotate(-90)" x="0" y="0" font-family="Liberation Serif" font-weight="bold" font-size="11" fill="#4a4a4a" text-anchor="middle" textLength="87.4" lengthAdjust="spacingAndGlyphs">Conductivity (S/m)</text>
<text x="438.60" y="190.60" font-family="Liberation Serif" font-weight="bold" font-size="11.5" fill="#4a4a4a" text-anchor="start" textLength="59.1" lengthAdjust="spacingAndGlyphs">Frequency (Hz)</text>
<path d="M49.30,208.10V348.60H291.20" stroke="#d9d9d9" stroke-width="0.9" fill="none"/>
<text x="43.60" y="210.10" font-family="Liberation Serif" font-weight="normal" font-size="6.6" fill="#7c7c7c" text-anchor="end" textLength="16.3" lengthAdjust="spacingAndGlyphs">1E+10</text>
<text x="43.60" y="245.50" font-family="Liberation Serif" font-weight="normal" font-size="6.6" fill="#7c7c7c" text-anchor="end" textLength="16" lengthAdjust="spacingAndGlyphs">1E+09</text>
<text x="43.60" y="280.80" font-family="Liberation Serif" font-weight="normal" font-size="6.6" fill="#7c7c7c" text-anchor="end" textLength="29.5" lengthAdjust="spacingAndGlyphs">100000000</text>
<text x="43.60" y="315.90" font-family="Liberation Serif" font-weight="normal" font-size="6.6" fill="#7c7c7c" text-anchor="end" textLength="26.5" lengthAdjust="spacingAndGlyphs">10000000</text>
<text x="43.60" y="351.20" font-family="Liberation Serif" font-weight="normal" font-size="6.6" fill="#7c7c7c" text-anchor="end" textLength="22.8" lengthAdjust="spacingAndGlyphs">1000000</text>
<text x="49.20" y="359.30" font-family="Liberation Serif" font-weight="normal" font-size="6.6" fill="#7c7c7c" text-anchor="middle" textLength="4" lengthAdjust="spacingAndGlyphs">4</text>
<text x="150.10" y="359.30" font-family="Liberation Serif" font-weight="normal" font-size="6.6" fill="#7c7c7c" text-anchor="middle" textLength="8" lengthAdjust="spacingAndGlyphs">40</text>
<text x="251.00" y="359.30" font-family="Liberation Serif" font-weight="normal" font-size="6.6" fill="#7c7c7c" text-anchor="middle" textLength="12" lengthAdjust="spacingAndGlyphs">400</text>
<path d="M49.20,264.70V277.40M47.90,264.70h2.6M47.90,277.40h2.6" stroke="#a8a8a8" stroke-width="0.7" fill="none"/>
<path d="M79.57,271.00V281.40M78.27,271.00h2.6M78.27,281.40h2.6" stroke="#a8a8a8" stroke-width="0.7" fill="none"/>
<path d="M89.35,272.70V284.00M88.05,272.70h2.6M88.05,284.00h2.6" stroke="#a8a8a8" stroke-width="0.7" fill="none"/>
<path d="M119.73,277.00V292.00M118.43,277.00h2.6M118.43,292.00h2.6" stroke="#a8a8a8" stroke-width="0.7" fill="none"/>
<path d="M150.10,281.40V298.30M148.80,281.40h2.6M148.80,298.30h2.6" stroke="#a8a8a8" stroke-width="0.7" fill="none"/>
<path d="M180.47,288.70V306.00M179.17,288.70h2.6M179.17,306.00h2.6" stroke="#a8a8a8" stroke-width="0.7" fill="none"/>
<path d="M190.25,294.00V306.00M188.95,294.00h2.6M188.95,306.00h2.6" stroke="#a8a8a8" stroke-width="0.7" fill="none"/>
<path d="M220.63,298.00V315.80M219.33,298.00h2.6M219.33,315.80h2.6" stroke="#a8a8a8" stroke-width="0.7" fill="none"/>
<path d="M251.00,314.00V324.70M249.70,314.00h2.6M249.70,324.70h2.6" stroke="#a8a8a8" stroke-width="0.7" fill="none"/>
<path d="M281.37,328.50V339.50M280.07,328.50h2.6M280.07,339.50h2.6" stroke="#a8a8a8" stroke-width="0.7" fill="none"/>
<path d="M291.15,333.00V344.00M289.85,333.00h2.6M289.85,344.00h2.6" stroke="#a8a8a8" stroke-width="0.7" fill="none"/>
<polyline points="49.20,270.00 79.57,275.40 89.35,277.40 119.73,282.40 150.10,288.00 180.47,295.10 190.25,299.00 220.63,304.70 251.00,319.10 281.37,333.70 291.15,338.70" fill="none" stroke="#1a1a1a" stroke-width="1.1"/>
<path d="M47.84,268.64L50.56,271.36M50.56,268.64L47.84,271.36" stroke="#000" stroke-width="1.2"/>
<path d="M78.21,274.04L80.93,276.76M80.93,274.04L78.21,276.76" stroke="#000" stroke-width="1.2"/>
<path d="M87.99,276.04L90.71,278.76M90.71,276.04L87.99,278.76" stroke="#000" stroke-width="1.2"/>
<path d="M118.37,281.04L121.09,283.76M121.09,281.04L118.37,283.76" stroke="#000" stroke-width="1.2"/>
<path d="M148.74,286.64L151.46,289.36M151.46,286.64L148.74,289.36" stroke="#000" stroke-width="1.2"/>
<path d="M179.11,293.74L181.83,296.46M181.83,293.74L179.11,296.46" stroke="#000" stroke-width="1.2"/>
<path d="M188.89,297.64L191.61,300.36M191.61,297.64L188.89,300.36" stroke="#000" stroke-width="1.2"/>
<path d="M219.27,303.34L221.99,306.06M221.99,303.34L219.27,306.06" stroke="#000" stroke-width="1.2"/>
<path d="M249.64,317.74L252.36,320.46M252.36,317.74L249.64,320.46" stroke="#000" stroke-width="1.2"/>
<path d="M280.01,332.34L282.73,335.06M282.73,332.34L280.01,335.06" stroke="#000" stroke-width="1.2"/>
<path d="M289.79,337.34L292.51,340.06M292.51,337.34L289.79,340.06" stroke="#000" stroke-width="1.2"/>
<path d="M49.20,254.50V257.50M47.90,254.50h2.6M47.90,257.50h2.6" stroke="#a8a8a8" stroke-width="0.7" fill="none"/>
<path d="M79.57,258.40V262.40M78.27,258.40h2.6M78.27,262.40h2.6" stroke="#a8a8a8" stroke-width="0.7" fill="none"/>
<path d="M89.35,259.20V264.20M88.05,259.20h2.6M88.05,264.20h2.6" stroke="#a8a8a8" stroke-width="0.7" fill="none"/>
<path d="M119.73,261.70V270.70M118.43,261.70h2.6M118.43,270.70h2.6" stroke="#a8a8a8" stroke-width="0.7" fill="none"/>
<path d="M150.10,270.50V277.50M148.80,270.50h2.6M148.80,277.50h2.6" stroke="#a8a8a8" stroke-width="0.7" fill="none"/>
<path d="M180.47,276.40V282.40M179.17,276.40h2.6M179.17,282.40h2.6" stroke="#a8a8a8" stroke-width="0.7" fill="none"/>
<path d="M190.25,281.30V288.30M188.95,281.30h2.6M188.95,288.30h2.6" stroke="#a8a8a8" stroke-width="0.7" fill="none"/>
<path d="M220.63,288.30V296.30M219.33,288.30h2.6M219.33,296.30h2.6" stroke="#a8a8a8" stroke-width="0.7" fill="none"/>
<path d="M251.00,298.70V309.30M249.70,298.70h2.6M249.70,309.30h2.6" stroke="#a8a8a8" stroke-width="0.7" fill="none"/>
<path d="M281.37,312.00V320.00M280.07,312.00h2.6M280.07,320.00h2.6" stroke="#a8a8a8" stroke-width="0.7" fill="none"/>
<path d="M291.15,318.30V326.30M289.85,318.30h2.6M289.85,326.30h2.6" stroke="#a8a8a8" stroke-width="0.7" fill="none"/>
<polyline points="49.20,256.00 79.57,260.40 89.35,261.70 119.73,266.20 150.10,274.00 180.47,279.40 190.25,284.80 220.63,292.30 251.00,304.00 281.37,316.00 291.15,322.30" fill="none" stroke="#1a1a1a" stroke-width="1.3" stroke-dasharray="1.3 1.7"/>
<path d="M49.20,254.35L50.85,257.35L47.55,257.35Z" fill="#fff" stroke="#000" stroke-width="1.0"/>
<path d="M79.57,258.75L81.22,261.75L77.92,261.75Z" fill="#fff" stroke="#000" stroke-width="1.0"/>
<path d="M89.35,260.05L91.00,263.05L87.70,263.05Z" fill="#fff" stroke="#000" stroke-width="1.0"/>
<path d="M119.73,264.55L121.38,267.55L118.08,267.55Z" fill="#fff" stroke="#000" stroke-width="1.0"/>
<path d="M150.10,272.35L151.75,275.35L148.45,275.35Z" fill="#fff" stroke="#000" stroke-width="1.0"/>
<path d="M180.47,277.75L182.12,280.75L178.82,280.75Z" fill="#fff" stroke="#000" stroke-width="1.0"/>
<path d="M190.25,283.15L191.90,286.15L188.60,286.15Z" fill="#fff" stroke="#000" stroke-width="1.0"/>
<path d="M220.63,290.65L222.28,293.65L218.98,293.65Z" fill="#fff" stroke="#000" stroke-width="1.0"/>
<path d="M251.00,302.35L252.65,305.35L249.35,305.35Z" fill="#fff" stroke="#000" stroke-width="1.0"/>
<path d="M281.37,314.35L283.02,317.35L279.72,317.35Z" fill="#fff" stroke="#000" stroke-width="1.0"/>
<path d="M291.15,320.65L292.80,323.65L289.50,323.65Z" fill="#fff" stroke="#000" stroke-width="1.0"/>
<text x="49.40" y="253.10" font-family="Liberation Serif" font-weight="bold" font-size="5.0" fill="#000" text-anchor="start" textLength="5.0" lengthAdjust="spacing" stroke="#000" stroke-width="0.3">*†</text>
<text x="79.77" y="257.10" font-family="Liberation Serif" font-weight="bold" font-size="5.0" fill="#000" text-anchor="start" textLength="5.0" lengthAdjust="spacing" stroke="#000" stroke-width="0.3">*†</text>
<text x="89.55" y="257.80" font-family="Liberation Serif" font-weight="bold" font-size="5.0" fill="#000" text-anchor="start" textLength="5.0" lengthAdjust="spacing" stroke="#000" stroke-width="0.3">*†</text>
<text x="119.93" y="261.10" font-family="Liberation Serif" font-weight="bold" font-size="5.0" fill="#000" text-anchor="start" textLength="5.0" lengthAdjust="spacing" stroke="#000" stroke-width="0.3">*†</text>
<text x="150.30" y="270.10" font-family="Liberation Serif" font-weight="bold" font-size="5.0" fill="#000" text-anchor="start" textLength="5.0" lengthAdjust="spacing" stroke="#000" stroke-width="0.3">*†</text>
<text x="180.67" y="276.90" font-family="Liberation Serif" font-weight="bold" font-size="5.0" fill="#000" text-anchor="start" textLength="5.0" lengthAdjust="spacing" stroke="#000" stroke-width="0.3">*†</text>
<text x="190.45" y="280.50" font-family="Liberation Serif" font-weight="bold" font-size="5.0" fill="#000" text-anchor="start" textLength="5.0" lengthAdjust="spacing" stroke="#000" stroke-width="0.3">*†</text>
<text x="220.83" y="290.10" font-family="Liberation Serif" font-weight="bold" font-size="5.0" fill="#000" text-anchor="start" textLength="5.0" lengthAdjust="spacing" stroke="#000" stroke-width="0.3">*†</text>
<text x="251.20" y="299.80" font-family="Liberation Serif" font-weight="bold" font-size="5.0" fill="#000" text-anchor="start" textLength="5.0" lengthAdjust="spacing" stroke="#000" stroke-width="0.3">*†</text>
<text x="281.57" y="314.40" font-family="Liberation Serif" font-weight="bold" font-size="5.0" fill="#000" text-anchor="start" textLength="5.0" lengthAdjust="spacing" stroke="#000" stroke-width="0.3">*†</text>
<text x="291.35" y="317.50" font-family="Liberation Serif" font-weight="bold" font-size="5.0" fill="#000" text-anchor="start" textLength="5.0" lengthAdjust="spacing" stroke="#000" stroke-width="0.3">*†</text>
<path d="M49.20,237.30V239.30M47.90,237.30h2.6M47.90,239.30h2.6" stroke="#a8a8a8" stroke-width="0.7" fill="none"/>
<path d="M79.57,242.10V244.10M78.27,242.10h2.6M78.27,244.10h2.6" stroke="#a8a8a8" stroke-width="0.7" fill="none"/>
<path d="M89.35,245.00V247.00M88.05,245.00h2.6M88.05,247.00h2.6" stroke="#a8a8a8" stroke-width="0.7" fill="none"/>
<path d="M119.73,251.70V253.70M118.43,251.70h2.6M118.43,253.70h2.6" stroke="#a8a8a8" stroke-width="0.7" fill="none"/>
<path d="M150.10,259.00V261.00M148.80,259.00h2.6M148.80,261.00h2.6" stroke="#a8a8a8" stroke-width="0.7" fill="none"/>
<path d="M180.47,267.40V269.40M179.17,267.40h2.6M179.17,269.40h2.6" stroke="#a8a8a8" stroke-width="0.7" fill="none"/>
<path d="M190.25,271.30V273.30M188.95,271.30h2.6M188.95,273.30h2.6" stroke="#a8a8a8" stroke-width="0.7" fill="none"/>
<path d="M220.63,281.00V283.00M219.33,281.00h2.6M219.33,283.00h2.6" stroke="#a8a8a8" stroke-width="0.7" fill="none"/>
<path d="M251.00,290.60V292.60M249.70,290.60h2.6M249.70,292.60h2.6" stroke="#a8a8a8" stroke-width="0.7" fill="none"/>
<path d="M281.37,302.10V304.10M280.07,302.10h2.6M280.07,304.10h2.6" stroke="#a8a8a8" stroke-width="0.7" fill="none"/>
<path d="M291.15,306.10V308.10M289.85,306.10h2.6M289.85,308.10h2.6" stroke="#a8a8a8" stroke-width="0.7" fill="none"/>
<polyline points="49.20,238.30 79.57,243.10 89.35,246.00 119.73,252.70 150.10,260.00 180.47,268.40 190.25,272.30 220.63,282.00 251.00,291.60 281.37,303.10 291.15,307.10" fill="none" stroke="#1a1a1a" stroke-width="1.3" stroke-dasharray="5.3 2.7"/>
<path d="M49.20,236.76L50.74,238.30L49.20,239.84L47.66,238.30Z" fill="#fff" stroke="#000" stroke-width="1.0"/>
<path d="M79.57,241.56L81.11,243.10L79.57,244.64L78.03,243.10Z" fill="#fff" stroke="#000" stroke-width="1.0"/>
<path d="M89.35,244.46L90.89,246.00L89.35,247.54L87.81,246.00Z" fill="#fff" stroke="#000" stroke-width="1.0"/>
<path d="M119.73,251.16L121.27,252.70L119.73,254.24L118.19,252.70Z" fill="#fff" stroke="#000" stroke-width="1.0"/>
<path d="M150.10,258.46L151.64,260.00L150.10,261.54L148.56,260.00Z" fill="#fff" stroke="#000" stroke-width="1.0"/>
<path d="M180.47,266.86L182.01,268.40L180.47,269.94L178.93,268.40Z" fill="#fff" stroke="#000" stroke-width="1.0"/>
<path d="M190.25,270.76L191.79,272.30L190.25,273.84L188.71,272.30Z" fill="#fff" stroke="#000" stroke-width="1.0"/>
<path d="M220.63,280.46L222.17,282.00L220.63,283.54L219.09,282.00Z" fill="#fff" stroke="#000" stroke-width="1.0"/>
<path d="M251.00,290.06L252.54,291.60L251.00,293.14L249.46,291.60Z" fill="#fff" stroke="#000" stroke-width="1.0"/>
<path d="M281.37,301.56L282.91,303.10L281.37,304.64L279.83,303.10Z" fill="#fff" stroke="#000" stroke-width="1.0"/>
<path d="M291.15,305.56L292.69,307.10L291.15,308.64L289.61,307.10Z" fill="#fff" stroke="#000" stroke-width="1.0"/>
<text x="49.90" y="236.70" font-family="Liberation Serif" font-weight="bold" font-size="5.0" fill="#000" text-anchor="start" textLength="7.3" lengthAdjust="spacing" stroke="#000" stroke-width="0.3">*†‡</text>
<text x="80.27" y="240.70" font-family="Liberation Serif" font-weight="bold" font-size="5.0" fill="#000" text-anchor="start" textLength="7.3" lengthAdjust="spacing" stroke="#000" stroke-width="0.3">*†‡</text>
<text x="90.05" y="244.20" font-family="Liberation Serif" font-weight="bold" font-size="5.0" fill="#000" text-anchor="start" textLength="7.3" lengthAdjust="spacing" stroke="#000" stroke-width="0.3">*†‡</text>
<text x="120.43" y="250.20" font-family="Liberation Serif" font-weight="bold" font-size="5.0" fill="#000" text-anchor="start" textLength="7.3" lengthAdjust="spacing" stroke="#000" stroke-width="0.3">*†‡</text>
<text x="150.80" y="258.70" font-family="Liberation Serif" font-weight="bold" font-size="5.0" fill="#000" text-anchor="start" textLength="7.3" lengthAdjust="spacing" stroke="#000" stroke-width="0.3">*†‡</text>
<text x="181.17" y="267.10" font-family="Liberation Serif" font-weight="bold" font-size="5.0" fill="#000" text-anchor="start" textLength="7.3" lengthAdjust="spacing" stroke="#000" stroke-width="0.3">*†‡</text>
<text x="190.95" y="270.20" font-family="Liberation Serif" font-weight="bold" font-size="5.0" fill="#000" text-anchor="start" textLength="7.3" lengthAdjust="spacing" stroke="#000" stroke-width="0.3">*†‡</text>
<text x="221.33" y="279.10" font-family="Liberation Serif" font-weight="bold" font-size="5.0" fill="#000" text-anchor="start" textLength="7.3" lengthAdjust="spacing" stroke="#000" stroke-width="0.3">*†‡</text>
<text x="251.70" y="288.30" font-family="Liberation Serif" font-weight="bold" font-size="5.0" fill="#000" text-anchor="start" textLength="7.3" lengthAdjust="spacing" stroke="#000" stroke-width="0.3">*†‡</text>
<text x="282.07" y="300.70" font-family="Liberation Serif" font-weight="bold" font-size="5.0" fill="#000" text-anchor="start" textLength="7.3" lengthAdjust="spacing" stroke="#000" stroke-width="0.3">*†‡</text>
<text x="291.85" y="304.80" font-family="Liberation Serif" font-weight="bold" font-size="5.0" fill="#000" text-anchor="start" textLength="7.3" lengthAdjust="spacing" stroke="#000" stroke-width="0.3">*†‡</text>
<polyline points="49.20,223.40 79.57,232.40 89.35,235.10 119.73,245.60 150.10,253.40 180.47,261.00 190.25,264.00 220.63,274.40 251.00,283.70 281.37,291.70 291.15,293.60" fill="none" stroke="#1a1a1a" stroke-width="1.0" stroke-dasharray="5.5 2 0.8 2 0.8 2.2"/>
<rect x="47.70" y="221.90" width="3.00" height="3.00" rx="0.9" fill="#fff" stroke="#000" stroke-width="1.0"/>
<rect x="78.07" y="230.90" width="3.00" height="3.00" rx="0.9" fill="#fff" stroke="#000" stroke-width="1.0"/>
<rect x="87.85" y="233.60" width="3.00" height="3.00" rx="0.9" fill="#fff" stroke="#000" stroke-width="1.0"/>
<rect x="118.23" y="244.10" width="3.00" height="3.00" rx="0.9" fill="#fff" stroke="#000" stroke-width="1.0"/>
<rect x="148.60" y="251.90" width="3.00" height="3.00" rx="0.9" fill="#fff" stroke="#000" stroke-width="1.0"/>
<rect x="178.97" y="259.50" width="3.00" height="3.00" rx="0.9" fill="#fff" stroke="#000" stroke-width="1.0"/>
<rect x="188.75" y="262.50" width="3.00" height="3.00" rx="0.9" fill="#fff" stroke="#000" stroke-width="1.0"/>
<rect x="219.13" y="272.90" width="3.00" height="3.00" rx="0.9" fill="#fff" stroke="#000" stroke-width="1.0"/>
<rect x="249.50" y="282.20" width="3.00" height="3.00" rx="0.9" fill="#fff" stroke="#000" stroke-width="1.0"/>
<rect x="279.87" y="290.20" width="3.00" height="3.00" rx="0.9" fill="#fff" stroke="#000" stroke-width="1.0"/>
<rect x="289.65" y="292.10" width="3.00" height="3.00" rx="0.9" fill="#fff" stroke="#000" stroke-width="1.0"/>
<text x="48.90" y="222.40" font-family="Liberation Serif" font-weight="bold" font-size="5.0" fill="#000" text-anchor="start" textLength="10.0" lengthAdjust="spacing" stroke="#000" stroke-width="0.3">*†‡§</text>
<text x="79.27" y="231.80" font-family="Liberation Serif" font-weight="bold" font-size="5.0" fill="#000" text-anchor="start" textLength="10.0" lengthAdjust="spacing" stroke="#000" stroke-width="0.3">*†‡§</text>
<text x="89.05" y="235.80" font-family="Liberation Serif" font-weight="bold" font-size="5.0" fill="#000" text-anchor="start" textLength="10.0" lengthAdjust="spacing" stroke="#000" stroke-width="0.3">*†‡§</text>
<text x="119.43" y="244.50" font-family="Liberation Serif" font-weight="bold" font-size="5.0" fill="#000" text-anchor="start" textLength="10.0" lengthAdjust="spacing" stroke="#000" stroke-width="0.3">*†‡§</text>
<text x="149.80" y="250.70" font-family="Liberation Serif" font-weight="bold" font-size="5.0" fill="#000" text-anchor="start" textLength="10.0" lengthAdjust="spacing" stroke="#000" stroke-width="0.3">*†‡§</text>
<text x="180.17" y="259.80" font-family="Liberation Serif" font-weight="bold" font-size="5.0" fill="#000" text-anchor="start" textLength="10.0" lengthAdjust="spacing" stroke="#000" stroke-width="0.3">*†‡§</text>
<text x="189.95" y="262.70" font-family="Liberation Serif" font-weight="bold" font-size="5.0" fill="#000" text-anchor="start" textLength="10.0" lengthAdjust="spacing" stroke="#000" stroke-width="0.3">*†‡§</text>
<text x="220.33" y="273.80" font-family="Liberation Serif" font-weight="bold" font-size="5.0" fill="#000" text-anchor="start" textLength="10.0" lengthAdjust="spacing" stroke="#000" stroke-width="0.3">*†‡§</text>
<text x="250.70" y="283.50" font-family="Liberation Serif" font-weight="bold" font-size="5.0" fill="#000" text-anchor="start" textLength="10.0" lengthAdjust="spacing" stroke="#000" stroke-width="0.3">*†‡§</text>
<text x="281.07" y="291.00" font-family="Liberation Serif" font-weight="bold" font-size="5.0" fill="#000" text-anchor="start" textLength="10.0" lengthAdjust="spacing" stroke="#000" stroke-width="0.3">*†‡§</text>
<text x="290.85" y="293.60" font-family="Liberation Serif" font-weight="bold" font-size="5.0" fill="#000" text-anchor="start" textLength="10.0" lengthAdjust="spacing" stroke="#000" stroke-width="0.3">*†‡§</text>
<text x="2.20" y="200.50" font-family="Liberation Sans" font-weight="bold" font-size="14" fill="#000" text-anchor="start" textLength="8.4" lengthAdjust="spacingAndGlyphs">C</text>
<text transform="translate(10.60,270.90) rotate(-90)" x="0" y="0" font-family="Liberation Serif" font-weight="bold" font-size="12" fill="#4a4a4a" text-anchor="middle" textLength="78.3" lengthAdjust="spacingAndGlyphs">Relative permittivity</text>
<text x="132.50" y="371.60" font-family="Liberation Serif" font-weight="bold" font-size="10" fill="#4a4a4a" text-anchor="start" textLength="75.5" lengthAdjust="spacing">Frequency (Hz)</text>
<path d="M349.40,207.00V348.30H589.00" stroke="#d9d9d9" stroke-width="0.9" fill="none"/>
<text x="343.90" y="209.30" font-family="Liberation Serif" font-weight="normal" font-size="6.6" fill="#7c7c7c" text-anchor="end" textLength="23.5" lengthAdjust="spacingAndGlyphs">10000000</text>
<text x="343.90" y="244.60" font-family="Liberation Serif" font-weight="normal" font-size="6.6" fill="#7c7c7c" text-anchor="end" textLength="20.2" lengthAdjust="spacingAndGlyphs">1000000</text>
<text x="343.90" y="279.90" font-family="Liberation Serif" font-weight="normal" font-size="6.6" fill="#7c7c7c" text-anchor="end" textLength="17.3" lengthAdjust="spacingAndGlyphs">100000</text>
<text x="343.90" y="315.20" font-family="Liberation Serif" font-weight="normal" font-size="6.6" fill="#7c7c7c" text-anchor="end" textLength="14.4" lengthAdjust="spacingAndGlyphs">10000</text>
<text x="343.90" y="350.60" font-family="Liberation Serif" font-weight="normal" font-size="6.6" fill="#7c7c7c" text-anchor="end" textLength="11.7" lengthAdjust="spacingAndGlyphs">1000</text>
<text x="349.40" y="358.30" font-family="Liberation Serif" font-weight="normal" font-size="6.6" fill="#7c7c7c" text-anchor="middle" textLength="14.8" lengthAdjust="spacingAndGlyphs">10000</text>
<text x="429.20" y="358.30" font-family="Liberation Serif" font-weight="normal" font-size="6.6" fill="#7c7c7c" text-anchor="middle" textLength="17.2" lengthAdjust="spacingAndGlyphs">100000</text>
<text x="509.00" y="358.30" font-family="Liberation Serif" font-weight="normal" font-size="6.6" fill="#7c7c7c" text-anchor="middle" textLength="20" lengthAdjust="spacingAndGlyphs">1000000</text>
<text x="588.80" y="358.30" font-family="Liberation Serif" font-weight="normal" font-size="6.6" fill="#7c7c7c" text-anchor="middle" textLength="23.5" lengthAdjust="spacingAndGlyphs">10000000</text>
<path d="M349.40,249.60V261.60M348.10,249.60h2.6M348.10,261.60h2.6" stroke="#a8a8a8" stroke-width="0.7" fill="none"/>
<path d="M381.16,259.50V272.10M379.86,259.50h2.6M379.86,272.10h2.6" stroke="#a8a8a8" stroke-width="0.7" fill="none"/>
<path d="M405.18,269.80V279.80M403.88,269.80h2.6M403.88,279.80h2.6" stroke="#a8a8a8" stroke-width="0.7" fill="none"/>
<path d="M419.23,276.40V286.40M417.93,276.40h2.6M417.93,286.40h2.6" stroke="#a8a8a8" stroke-width="0.7" fill="none"/>
<path d="M429.20,278.00V288.00M427.90,278.00h2.6M427.90,288.00h2.6" stroke="#a8a8a8" stroke-width="0.7" fill="none"/>
<path d="M453.22,283.80V293.80M451.92,283.80h2.6M451.92,293.80h2.6" stroke="#a8a8a8" stroke-width="0.7" fill="none"/>
<path d="M477.24,291.00V299.00M475.94,291.00h2.6M475.94,299.00h2.6" stroke="#a8a8a8" stroke-width="0.7" fill="none"/>
<path d="M501.27,300.00V307.00M499.97,300.00h2.6M499.97,307.00h2.6" stroke="#a8a8a8" stroke-width="0.7" fill="none"/>
<path d="M509.00,303.00V310.00M507.70,303.00h2.6M507.70,310.00h2.6" stroke="#a8a8a8" stroke-width="0.7" fill="none"/>
<path d="M523.05,309.30V316.30M521.75,309.30h2.6M521.75,316.30h2.6" stroke="#a8a8a8" stroke-width="0.7" fill="none"/>
<path d="M533.02,313.70V320.70M531.72,313.70h2.6M531.72,320.70h2.6" stroke="#a8a8a8" stroke-width="0.7" fill="none"/>
<path d="M540.76,317.30V324.30M539.46,317.30h2.6M539.46,324.30h2.6" stroke="#a8a8a8" stroke-width="0.7" fill="none"/>
<path d="M547.07,319.90V326.90M545.77,319.90h2.6M545.77,326.90h2.6" stroke="#a8a8a8" stroke-width="0.7" fill="none"/>
<path d="M552.42,321.50V328.50M551.12,321.50h2.6M551.12,328.50h2.6" stroke="#a8a8a8" stroke-width="0.7" fill="none"/>
<path d="M557.04,323.70V330.70M555.74,323.70h2.6M555.74,330.70h2.6" stroke="#a8a8a8" stroke-width="0.7" fill="none"/>
<path d="M561.13,325.00V332.00M559.83,325.00h2.6M559.83,332.00h2.6" stroke="#a8a8a8" stroke-width="0.7" fill="none"/>
<path d="M564.78,326.20V333.20M563.48,326.20h2.6M563.48,333.20h2.6" stroke="#a8a8a8" stroke-width="0.7" fill="none"/>
<polyline points="349.40,255.60 381.16,265.80 405.18,274.80 419.23,281.40 429.20,283.00 453.22,288.80 477.24,295.00 501.27,303.50 509.00,306.50 523.05,312.80 533.02,317.20 540.76,320.80 547.07,323.40 552.42,325.00 557.04,327.20 561.13,328.50 564.78,329.70" fill="none" stroke="#1a1a1a" stroke-width="1.0"/>
<path d="M348.44,254.64L350.36,256.56M350.36,254.64L348.44,256.56" stroke="#000" stroke-width="1.2"/>
<path d="M380.20,264.84L382.12,266.76M382.12,264.84L380.20,266.76" stroke="#000" stroke-width="1.2"/>
<path d="M404.22,273.84L406.14,275.76M406.14,273.84L404.22,275.76" stroke="#000" stroke-width="1.2"/>
<path d="M418.27,280.44L420.19,282.36M420.19,280.44L418.27,282.36" stroke="#000" stroke-width="1.2"/>
<path d="M428.24,282.04L430.16,283.96M430.16,282.04L428.24,283.96" stroke="#000" stroke-width="1.2"/>
<path d="M452.26,287.84L454.18,289.76M454.18,287.84L452.26,289.76" stroke="#000" stroke-width="1.2"/>
<path d="M476.28,294.04L478.20,295.96M478.20,294.04L476.28,295.96" stroke="#000" stroke-width="1.2"/>
<path d="M500.31,302.54L502.23,304.46M502.23,302.54L500.31,304.46" stroke="#000" stroke-width="1.2"/>
<path d="M508.04,305.54L509.96,307.46M509.96,305.54L508.04,307.46" stroke="#000" stroke-width="1.2"/>
<path d="M522.09,311.84L524.01,313.76M524.01,311.84L522.09,313.76" stroke="#000" stroke-width="1.2"/>
<path d="M532.06,316.24L533.98,318.16M533.98,316.24L532.06,318.16" stroke="#000" stroke-width="1.2"/>
<path d="M539.80,319.84L541.72,321.76M541.72,319.84L539.80,321.76" stroke="#000" stroke-width="1.2"/>
<path d="M546.11,322.44L548.03,324.36M548.03,322.44L546.11,324.36" stroke="#000" stroke-width="1.2"/>
<path d="M551.46,324.04L553.38,325.96M553.38,324.04L551.46,325.96" stroke="#000" stroke-width="1.2"/>
<path d="M556.08,326.24L558.00,328.16M558.00,326.24L556.08,328.16" stroke="#000" stroke-width="1.2"/>
<path d="M560.17,327.54L562.09,329.46M562.09,327.54L560.17,329.46" stroke="#000" stroke-width="1.2"/>
<path d="M563.82,328.74L565.74,330.66M565.74,328.74L563.82,330.66" stroke="#000" stroke-width="1.2"/>
<path d="M349.40,244.00V256.00M348.10,244.00h2.6M348.10,256.00h2.6" stroke="#a8a8a8" stroke-width="0.7" fill="none"/>
<path d="M381.16,254.00V266.60M379.86,254.00h2.6M379.86,266.60h2.6" stroke="#a8a8a8" stroke-width="0.7" fill="none"/>
<path d="M405.18,263.70V273.70M403.88,263.70h2.6M403.88,273.70h2.6" stroke="#a8a8a8" stroke-width="0.7" fill="none"/>
<path d="M419.23,271.70V281.70M417.93,271.70h2.6M417.93,281.70h2.6" stroke="#a8a8a8" stroke-width="0.7" fill="none"/>
<path d="M429.20,274.20V284.20M427.90,274.20h2.6M427.90,284.20h2.6" stroke="#a8a8a8" stroke-width="0.7" fill="none"/>
<path d="M453.22,281.50V291.50M451.92,281.50h2.6M451.92,291.50h2.6" stroke="#a8a8a8" stroke-width="0.7" fill="none"/>
<path d="M477.24,289.80V297.80M475.94,289.80h2.6M475.94,297.80h2.6" stroke="#a8a8a8" stroke-width="0.7" fill="none"/>
<path d="M501.27,299.40V306.40M499.97,299.40h2.6M499.97,306.40h2.6" stroke="#a8a8a8" stroke-width="0.7" fill="none"/>
<path d="M509.00,302.50V309.50M507.70,302.50h2.6M507.70,309.50h2.6" stroke="#a8a8a8" stroke-width="0.7" fill="none"/>
<path d="M523.05,308.90V315.90M521.75,308.90h2.6M521.75,315.90h2.6" stroke="#a8a8a8" stroke-width="0.7" fill="none"/>
<path d="M533.02,313.30V320.30M531.72,313.30h2.6M531.72,320.30h2.6" stroke="#a8a8a8" stroke-width="0.7" fill="none"/>
<path d="M540.76,316.90V323.90M539.46,316.90h2.6M539.46,323.90h2.6" stroke="#a8a8a8" stroke-width="0.7" fill="none"/>
<path d="M547.07,319.50V326.50M545.77,319.50h2.6M545.77,326.50h2.6" stroke="#a8a8a8" stroke-width="0.7" fill="none"/>
<path d="M552.42,321.10V328.10M551.12,321.10h2.6M551.12,328.10h2.6" stroke="#a8a8a8" stroke-width="0.7" fill="none"/>
<path d="M557.04,323.30V330.30M555.74,323.30h2.6M555.74,330.30h2.6" stroke="#a8a8a8" stroke-width="0.7" fill="none"/>
<path d="M561.13,324.60V331.60M559.83,324.60h2.6M559.83,331.60h2.6" stroke="#a8a8a8" stroke-width="0.7" fill="none"/>
<path d="M564.78,325.80V332.80M563.48,325.80h2.6M563.48,332.80h2.6" stroke="#a8a8a8" stroke-width="0.7" fill="none"/>
<polyline points="349.40,250.00 381.16,260.30 405.18,268.70 419.23,276.70 429.20,279.20 453.22,286.50 477.24,293.80 501.27,302.90 509.00,306.00 523.05,312.40 533.02,316.80 540.76,320.40 547.07,323.00 552.42,324.60 557.04,326.80 561.13,328.10 564.78,329.30" fill="none" stroke="#1a1a1a" stroke-width="1.0" stroke-dasharray="4 2.4"/>
<path d="M349.40,248.68L350.72,250.00L349.40,251.32L348.08,250.00Z" fill="#fff" stroke="#000" stroke-width="0.9"/>
<path d="M381.16,258.98L382.48,260.30L381.16,261.62L379.84,260.30Z" fill="#fff" stroke="#000" stroke-width="0.9"/>
<path d="M405.18,267.38L406.50,268.70L405.18,270.02L403.86,268.70Z" fill="#fff" stroke="#000" stroke-width="0.9"/>
<path d="M419.23,275.38L420.55,276.70L419.23,278.02L417.91,276.70Z" fill="#fff" stroke="#000" stroke-width="0.9"/>
<path d="M429.20,277.88L430.52,279.20L429.20,280.52L427.88,279.20Z" fill="#fff" stroke="#000" stroke-width="0.9"/>
<path d="M453.22,285.18L454.54,286.50L453.22,287.82L451.90,286.50Z" fill="#fff" stroke="#000" stroke-width="0.9"/>
<path d="M477.24,292.48L478.56,293.80L477.24,295.12L475.92,293.80Z" fill="#fff" stroke="#000" stroke-width="0.9"/>
<path d="M501.27,301.58L502.59,302.90L501.27,304.22L499.95,302.90Z" fill="#fff" stroke="#000" stroke-width="0.9"/>
<path d="M509.00,304.68L510.32,306.00L509.00,307.32L507.68,306.00Z" fill="#fff" stroke="#000" stroke-width="0.9"/>
<path d="M523.05,311.08L524.37,312.40L523.05,313.72L521.73,312.40Z" fill="#fff" stroke="#000" stroke-width="0.9"/>
<path d="M533.02,315.48L534.34,316.80L533.02,318.12L531.70,316.80Z" fill="#fff" stroke="#000" stroke-width="0.9"/>
<path d="M540.76,319.08L542.08,320.40L540.76,321.72L539.44,320.40Z" fill="#fff" stroke="#000" stroke-width="0.9"/>
<path d="M547.07,321.68L548.39,323.00L547.07,324.32L545.75,323.00Z" fill="#fff" stroke="#000" stroke-width="0.9"/>
<path d="M552.42,323.28L553.74,324.60L552.42,325.92L551.10,324.60Z" fill="#fff" stroke="#000" stroke-width="0.9"/>
<path d="M557.04,325.48L558.36,326.80L557.04,328.12L555.72,326.80Z" fill="#fff" stroke="#000" stroke-width="0.9"/>
<path d="M561.13,326.78L562.45,328.10L561.13,329.42L559.81,328.10Z" fill="#fff" stroke="#000" stroke-width="0.9"/>
<path d="M564.78,327.98L566.10,329.30L564.78,330.62L563.46,329.30Z" fill="#fff" stroke="#000" stroke-width="0.9"/>
<path d="M349.40,235.20V247.20M348.10,235.20h2.6M348.10,247.20h2.6" stroke="#a8a8a8" stroke-width="0.7" fill="none"/>
<path d="M381.16,245.90V258.50M379.86,245.90h2.6M379.86,258.50h2.6" stroke="#a8a8a8" stroke-width="0.7" fill="none"/>
<path d="M405.18,257.50V267.50M403.88,257.50h2.6M403.88,267.50h2.6" stroke="#a8a8a8" stroke-width="0.7" fill="none"/>
<path d="M419.23,267.00V277.00M417.93,267.00h2.6M417.93,277.00h2.6" stroke="#a8a8a8" stroke-width="0.7" fill="none"/>
<path d="M429.20,269.30V279.30M427.90,269.30h2.6M427.90,279.30h2.6" stroke="#a8a8a8" stroke-width="0.7" fill="none"/>
<path d="M453.22,277.70V287.70M451.92,277.70h2.6M451.92,287.70h2.6" stroke="#a8a8a8" stroke-width="0.7" fill="none"/>
<path d="M477.24,288.50V296.50M475.94,288.50h2.6M475.94,296.50h2.6" stroke="#a8a8a8" stroke-width="0.7" fill="none"/>
<path d="M501.27,298.70V305.70M499.97,298.70h2.6M499.97,305.70h2.6" stroke="#a8a8a8" stroke-width="0.7" fill="none"/>
<path d="M509.00,302.00V309.00M507.70,302.00h2.6M507.70,309.00h2.6" stroke="#a8a8a8" stroke-width="0.7" fill="none"/>
<path d="M523.05,308.70V315.70M521.75,308.70h2.6M521.75,315.70h2.6" stroke="#a8a8a8" stroke-width="0.7" fill="none"/>
<path d="M533.02,313.10V320.10M531.72,313.10h2.6M531.72,320.10h2.6" stroke="#a8a8a8" stroke-width="0.7" fill="none"/>
<path d="M540.76,316.70V323.70M539.46,316.70h2.6M539.46,323.70h2.6" stroke="#a8a8a8" stroke-width="0.7" fill="none"/>
<path d="M547.07,319.30V326.30M545.77,319.30h2.6M545.77,326.30h2.6" stroke="#a8a8a8" stroke-width="0.7" fill="none"/>
<path d="M552.42,320.90V327.90M551.12,320.90h2.6M551.12,327.90h2.6" stroke="#a8a8a8" stroke-width="0.7" fill="none"/>
<path d="M557.04,323.10V330.10M555.74,323.10h2.6M555.74,330.10h2.6" stroke="#a8a8a8" stroke-width="0.7" fill="none"/>
<path d="M561.13,324.40V331.40M559.83,324.40h2.6M559.83,331.40h2.6" stroke="#a8a8a8" stroke-width="0.7" fill="none"/>
<path d="M564.78,325.60V332.60M563.48,325.60h2.6M563.48,332.60h2.6" stroke="#a8a8a8" stroke-width="0.7" fill="none"/>
<polyline points="349.40,241.20 381.16,252.20 405.18,262.50 419.23,272.00 429.20,274.30 453.22,282.70 477.24,292.50 501.27,302.20 509.00,305.50 523.05,312.20 533.02,316.60 540.76,320.20 547.07,322.80 552.42,324.40 557.04,326.60 561.13,327.90 564.78,329.10" fill="none" stroke="#1a1a1a" stroke-width="1.0" stroke-dasharray="1.2 1.2"/>
<path d="M349.40,239.88L350.72,242.28L348.08,242.28Z" fill="#fff" stroke="#000" stroke-width="0.9"/>
<path d="M381.16,250.88L382.48,253.28L379.84,253.28Z" fill="#fff" stroke="#000" stroke-width="0.9"/>
<path d="M405.18,261.18L406.50,263.58L403.86,263.58Z" fill="#fff" stroke="#000" stroke-width="0.9"/>
<path d="M419.23,270.68L420.55,273.08L417.91,273.08Z" fill="#fff" stroke="#000" stroke-width="0.9"/>
<path d="M429.20,272.98L430.52,275.38L427.88,275.38Z" fill="#fff" stroke="#000" stroke-width="0.9"/>
<path d="M453.22,281.38L454.54,283.78L451.90,283.78Z" fill="#fff" stroke="#000" stroke-width="0.9"/>
<path d="M477.24,291.18L478.56,293.58L475.92,293.58Z" fill="#fff" stroke="#000" stroke-width="0.9"/>
<path d="M501.27,300.88L502.59,303.28L499.95,303.28Z" fill="#fff" stroke="#000" stroke-width="0.9"/>
<path d="M509.00,304.18L510.32,306.58L507.68,306.58Z" fill="#fff" stroke="#000" stroke-width="0.9"/>
<path d="M523.05,310.88L524.37,313.28L521.73,313.28Z" fill="#fff" stroke="#000" stroke-width="0.9"/>
<path d="M533.02,315.28L534.34,317.68L531.70,317.68Z" fill="#fff" stroke="#000" stroke-width="0.9"/>
<path d="M540.76,318.88L542.08,321.28L539.44,321.28Z" fill="#fff" stroke="#000" stroke-width="0.9"/>
<path d="M547.07,321.48L548.39,323.88L545.75,323.88Z" fill="#fff" stroke="#000" stroke-width="0.9"/>
<path d="M552.42,323.08L553.74,325.48L551.10,325.48Z" fill="#fff" stroke="#000" stroke-width="0.9"/>
<path d="M557.04,325.28L558.36,327.68L555.72,327.68Z" fill="#fff" stroke="#000" stroke-width="0.9"/>
<path d="M561.13,326.58L562.45,328.98L559.81,328.98Z" fill="#fff" stroke="#000" stroke-width="0.9"/>
<path d="M564.78,327.78L566.10,330.18L563.46,330.18Z" fill="#fff" stroke="#000" stroke-width="0.9"/>
<polyline points="349.40,218.40 381.16,229.00 405.18,239.40 419.23,250.40 429.20,253.80 453.22,264.30 477.24,275.30 501.27,285.60 509.00,289.40 523.05,296.00 533.02,301.00 540.76,304.30 547.07,308.50 552.42,311.00 557.04,312.50 561.13,314.10 564.78,315.30" fill="none" stroke="#1a1a1a" stroke-width="0.9" stroke-dasharray="4.7 1.6 0.9 1.2 0.9 2.4"/>
<rect x="348.00" y="217.00" width="2.80" height="2.80" rx="0.9" fill="#fff" stroke="#000" stroke-width="0.9"/>
<rect x="379.76" y="227.60" width="2.80" height="2.80" rx="0.9" fill="#fff" stroke="#000" stroke-width="0.9"/>
<rect x="403.78" y="238.00" width="2.80" height="2.80" rx="0.9" fill="#fff" stroke="#000" stroke-width="0.9"/>
<rect x="417.83" y="249.00" width="2.80" height="2.80" rx="0.9" fill="#fff" stroke="#000" stroke-width="0.9"/>
<rect x="427.80" y="252.40" width="2.80" height="2.80" rx="0.9" fill="#fff" stroke="#000" stroke-width="0.9"/>
<rect x="451.82" y="262.90" width="2.80" height="2.80" rx="0.9" fill="#fff" stroke="#000" stroke-width="0.9"/>
<rect x="475.84" y="273.90" width="2.80" height="2.80" rx="0.9" fill="#fff" stroke="#000" stroke-width="0.9"/>
<rect x="499.87" y="284.20" width="2.80" height="2.80" rx="0.9" fill="#fff" stroke="#000" stroke-width="0.9"/>
<rect x="507.60" y="288.00" width="2.80" height="2.80" rx="0.9" fill="#fff" stroke="#000" stroke-width="0.9"/>
<rect x="521.65" y="294.60" width="2.80" height="2.80" rx="0.9" fill="#fff" stroke="#000" stroke-width="0.9"/>
<rect x="531.62" y="299.60" width="2.80" height="2.80" rx="0.9" fill="#fff" stroke="#000" stroke-width="0.9"/>
<rect x="539.36" y="302.90" width="2.80" height="2.80" rx="0.9" fill="#fff" stroke="#000" stroke-width="0.9"/>
<rect x="545.67" y="307.10" width="2.80" height="2.80" rx="0.9" fill="#fff" stroke="#000" stroke-width="0.9"/>
<rect x="551.02" y="309.60" width="2.80" height="2.80" rx="0.9" fill="#fff" stroke="#000" stroke-width="0.9"/>
<rect x="555.64" y="311.10" width="2.80" height="2.80" rx="0.9" fill="#fff" stroke="#000" stroke-width="0.9"/>
<rect x="559.73" y="312.70" width="2.80" height="2.80" rx="0.9" fill="#fff" stroke="#000" stroke-width="0.9"/>
<rect x="563.38" y="313.90" width="2.80" height="2.80" rx="0.9" fill="#fff" stroke="#000" stroke-width="0.9"/>
<text x="351.70" y="218.90" font-family="Liberation Serif" font-weight="bold" font-size="6.0" fill="#000" text-anchor="start" textLength="6.5" lengthAdjust="spacingAndGlyphs" stroke="#000" stroke-width="0.3">*†‡§</text>
<text x="383.46" y="228.50" font-family="Liberation Serif" font-weight="bold" font-size="6.0" fill="#000" text-anchor="start" textLength="6.5" lengthAdjust="spacingAndGlyphs" stroke="#000" stroke-width="0.3">*†‡§</text>
<text x="407.48" y="239.60" font-family="Liberation Serif" font-weight="bold" font-size="6.0" fill="#000" text-anchor="start" textLength="6.5" lengthAdjust="spacingAndGlyphs" stroke="#000" stroke-width="0.3">*†‡§</text>
<text x="421.53" y="249.60" font-family="Liberation Serif" font-weight="bold" font-size="6.0" fill="#000" text-anchor="start" textLength="6.5" lengthAdjust="spacingAndGlyphs" stroke="#000" stroke-width="0.3">*†‡§</text>
<text x="431.50" y="253.20" font-family="Liberation Serif" font-weight="bold" font-size="6.0" fill="#000" text-anchor="start" textLength="6.5" lengthAdjust="spacingAndGlyphs" stroke="#000" stroke-width="0.3">*†‡§</text>
<text x="455.52" y="263.90" font-family="Liberation Serif" font-weight="bold" font-size="6.0" fill="#000" text-anchor="start" textLength="6.5" lengthAdjust="spacingAndGlyphs" stroke="#000" stroke-width="0.3">*†‡§</text>
<text x="479.54" y="273.50" font-family="Liberation Serif" font-weight="bold" font-size="6.0" fill="#000" text-anchor="start" textLength="6.5" lengthAdjust="spacingAndGlyphs" stroke="#000" stroke-width="0.3">*†‡§</text>
<text x="503.57" y="283.60" font-family="Liberation Serif" font-weight="bold" font-size="6.0" fill="#000" text-anchor="start" textLength="6.5" lengthAdjust="spacingAndGlyphs" stroke="#000" stroke-width="0.3">*†‡§</text>
<text x="511.30" y="287.70" font-family="Liberation Serif" font-weight="bold" font-size="6.0" fill="#000" text-anchor="start" textLength="6.5" lengthAdjust="spacingAndGlyphs" stroke="#000" stroke-width="0.3">*†‡§</text>
<text x="525.35" y="295.30" font-family="Liberation Serif" font-weight="bold" font-size="6.0" fill="#000" text-anchor="start" textLength="6.5" lengthAdjust="spacingAndGlyphs" stroke="#000" stroke-width="0.3">*†‡§</text>
<text x="535.32" y="300.30" font-family="Liberation Serif" font-weight="bold" font-size="6.0" fill="#000" text-anchor="start" textLength="6.5" lengthAdjust="spacingAndGlyphs" stroke="#000" stroke-width="0.3">*†‡§</text>
<text x="543.06" y="303.30" font-family="Liberation Serif" font-weight="bold" font-size="6.0" fill="#000" text-anchor="start" textLength="6.5" lengthAdjust="spacingAndGlyphs" stroke="#000" stroke-width="0.3">*†‡§</text>
<text x="549.37" y="306.90" font-family="Liberation Serif" font-weight="bold" font-size="6.0" fill="#000" text-anchor="start" textLength="6.5" lengthAdjust="spacingAndGlyphs" stroke="#000" stroke-width="0.3">*†‡§</text>
<text x="554.72" y="309.50" font-family="Liberation Serif" font-weight="bold" font-size="6.0" fill="#000" text-anchor="start" textLength="6.5" lengthAdjust="spacingAndGlyphs" stroke="#000" stroke-width="0.3">*†‡§</text>
<text x="559.34" y="311.40" font-family="Liberation Serif" font-weight="bold" font-size="6.0" fill="#000" text-anchor="start" textLength="6.5" lengthAdjust="spacingAndGlyphs" stroke="#000" stroke-width="0.3">*†‡§</text>
<text x="563.43" y="312.90" font-family="Liberation Serif" font-weight="bold" font-size="6.0" fill="#000" text-anchor="start" textLength="6.5" lengthAdjust="spacingAndGlyphs" stroke="#000" stroke-width="0.3">*†‡§</text>
<text x="567.08" y="314.40" font-family="Liberation Serif" font-weight="bold" font-size="6.0" fill="#000" text-anchor="start" textLength="6.5" lengthAdjust="spacingAndGlyphs" stroke="#000" stroke-width="0.3">*†‡§</text>
<text x="311.50" y="199.80" font-family="Liberation Sans" font-weight="bold" font-size="14" fill="#000" text-anchor="start" textLength="9.2" lengthAdjust="spacingAndGlyphs">D</text>
<text transform="translate(317.60,284.60) rotate(-90)" x="0" y="0" font-family="Liberation Serif" font-weight="bold" font-size="12" fill="#4a4a4a" text-anchor="middle" textLength="75.5" lengthAdjust="spacingAndGlyphs">Relative permittivity</text>
<text x="438.40" y="370.40" font-family="Liberation Serif" font-weight="bold" font-size="11.5" fill="#4a4a4a" text-anchor="start" textLength="60.6" lengthAdjust="spacingAndGlyphs">Frequency (Hz)</text>
</svg>
</body></html>
